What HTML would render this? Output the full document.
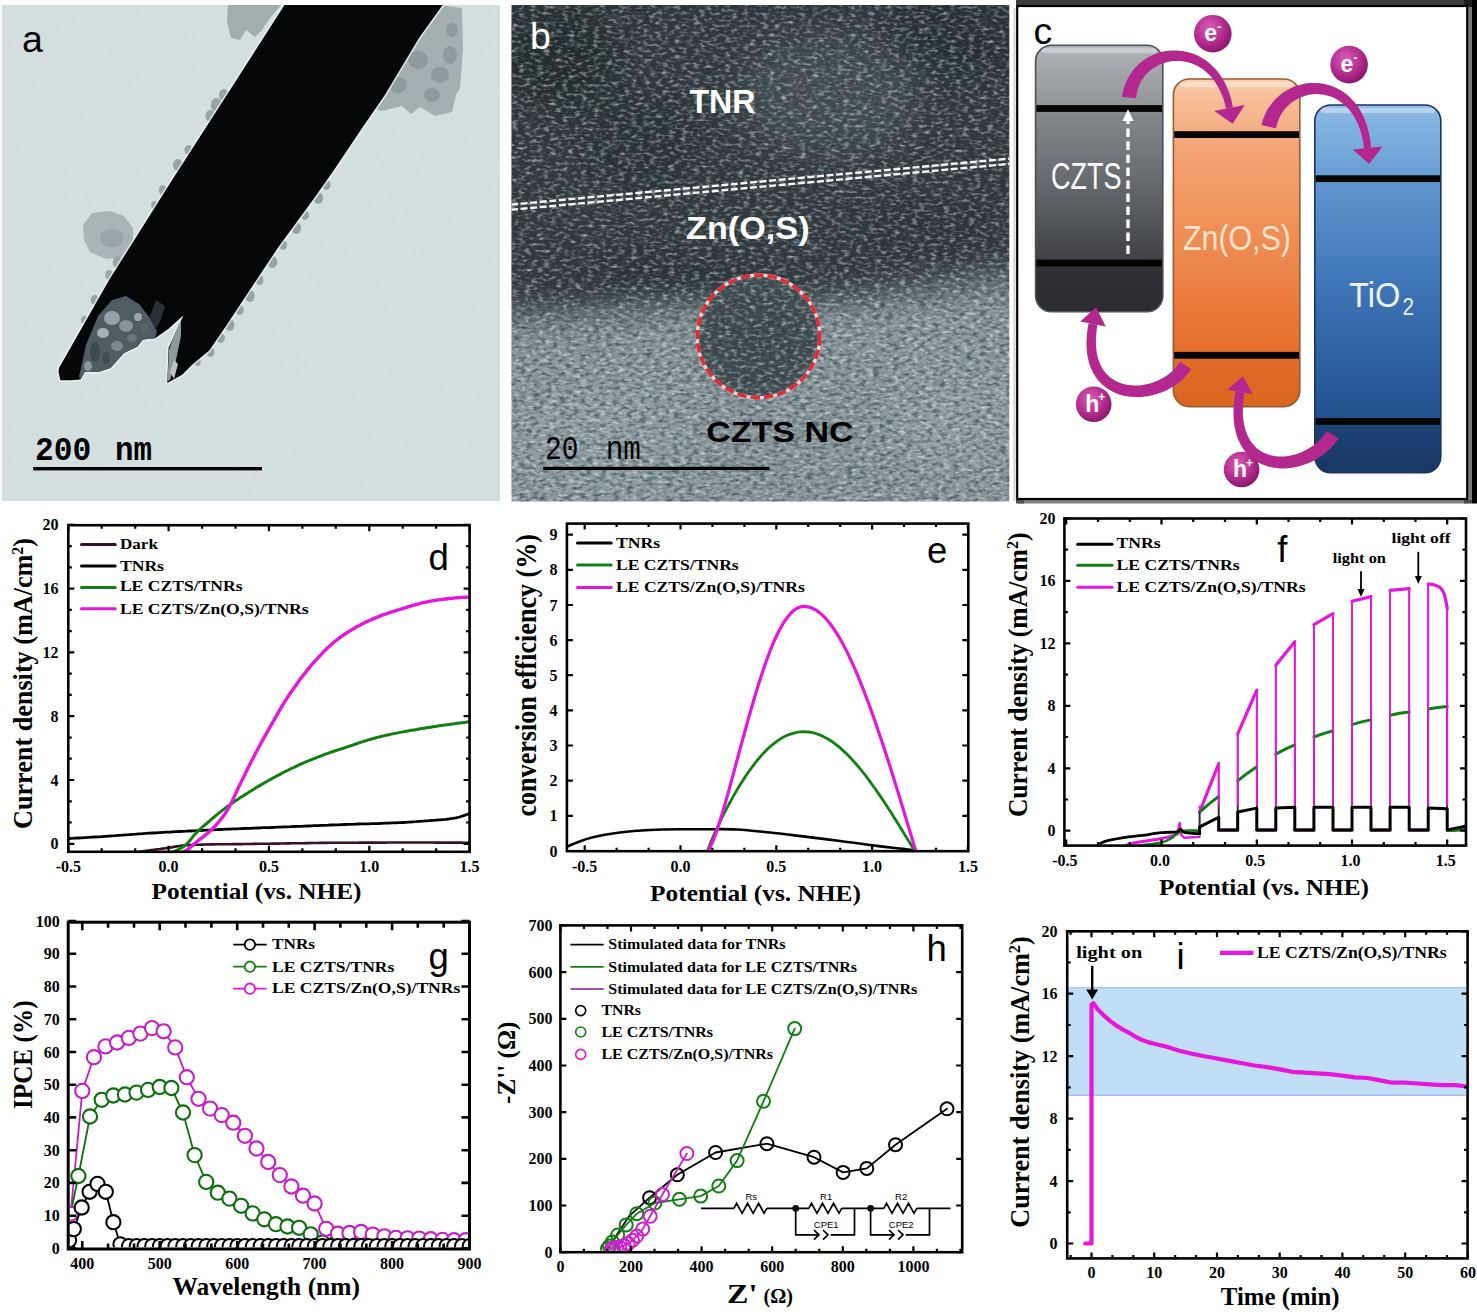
<!DOCTYPE html>
<html><head><meta charset="utf-8"><style>
html,body{margin:0;padding:0;background:#fff;}
svg{display:block;}
</style></head><body>
<svg width="1477" height="1315" viewBox="0 0 1477 1315">
<rect width="1477" height="1315" fill="#fff"/>
<rect x="2" y="5" width="498" height="496" fill="#d4dfdf"/>
<filter id="nzA" x="0" y="0" width="1" height="1"><feTurbulence type="fractalNoise" baseFrequency="0.25" numOctaves="2" seed="5"/><feColorMatrix type="matrix" values="0 0 0 0 0.55  0 0 0 0 0.62  0 0 0 0 0.62  1.8 0 0 0 -0.85"/></filter>
<rect x="2" y="5" width="498" height="496" filter="url(#nzA)" opacity="0.18"/>
<clipPath id="ca"><rect x="2" y="5" width="498" height="496"/></clipPath>
<g clip-path="url(#ca)">
<path d="M228.0,5.0 L281.0,5.0 L270.0,18.0 L262.0,30.0 L255.0,37.0 L246.0,30.0 L240.0,40.0 L231.0,38.0 L227.0,22.0 Z" fill="#a2adb0"/>
<path d="M440.0,5.0 L462.0,8.0 L463.0,50.0 L460.0,88.0 L456.0,95.0 L452.0,112.0 L435.0,116.0 L420.0,107.0 L411.0,114.0 L402.0,106.0 L382.0,111.0 L372.0,108.0 L405.0,55.0 L428.0,22.0 Z" fill="#a4afb2"/>
<ellipse cx="418" cy="60" rx="10" ry="9" fill="#8e9a9e" opacity="1"/>
<ellipse cx="440" cy="75" rx="9" ry="8" fill="#8e9a9e" opacity="1"/>
<ellipse cx="450" cy="55" rx="7" ry="9" fill="#8e9a9e" opacity="1"/>
<ellipse cx="398" cy="85" rx="9" ry="8" fill="#8e9a9e" opacity="1"/>
<ellipse cx="432" cy="95" rx="8" ry="7" fill="#8e9a9e" opacity="1"/>
<ellipse cx="452" cy="30" rx="6" ry="7" fill="#8e9a9e" opacity="1"/>
<ellipse cx="412" cy="35" rx="7" ry="6" fill="#8e9a9e" opacity="1"/>
<path d="M83.0,225.0 L92.0,213.0 L110.0,211.0 L124.0,216.0 L133.0,228.0 L133.0,246.0 L124.0,257.0 L106.0,259.0 L90.0,252.0 L84.0,240.0 Z" fill="#a9b4b7"/>
<ellipse cx="112" cy="238" rx="12" ry="10" fill="#9aa6a9" opacity="1"/>
<ellipse cx="223.78333333333333" cy="95" rx="4.800000000000001" ry="6" fill="#98a4a7" opacity="1"/>
<ellipse cx="216.35" cy="105" rx="5.6000000000000005" ry="7" fill="#98a4a7" opacity="1"/>
<ellipse cx="210.27333333333334" cy="116" rx="4.800000000000001" ry="6" fill="#98a4a7" opacity="1"/>
<ellipse cx="188.39999999999998" cy="150" rx="4.0" ry="5" fill="#98a4a7" opacity="1"/>
<ellipse cx="177.75" cy="165" rx="4.800000000000001" ry="6" fill="#98a4a7" opacity="1"/>
<ellipse cx="162.79999999999998" cy="190" rx="4.0" ry="5" fill="#98a4a7" opacity="1"/>
<ellipse cx="154.35" cy="205" rx="3.2" ry="4" fill="#98a4a7" opacity="1"/>
<ellipse cx="117.44" cy="262" rx="4.800000000000001" ry="6" fill="#98a4a7" opacity="1"/>
<ellipse cx="109.25" cy="275" rx="4.0" ry="5" fill="#98a4a7" opacity="1"/>
<ellipse cx="94.71363636363635" cy="300" rx="4.0" ry="5" fill="#98a4a7" opacity="1"/>
<ellipse cx="84.32727272727273" cy="320" rx="3.2" ry="4" fill="#98a4a7" opacity="1"/>
<ellipse cx="326.5122448979592" cy="185" rx="4.0" ry="5" fill="#96a2a5" opacity="1"/>
<ellipse cx="318.31496598639455" cy="198" rx="4.800000000000001" ry="6" fill="#96a2a5" opacity="1"/>
<ellipse cx="304.90423728813556" cy="215" rx="4.0" ry="5" fill="#96a2a5" opacity="1"/>
<ellipse cx="296.3745762711864" cy="228" rx="4.800000000000001" ry="6" fill="#96a2a5" opacity="1"/>
<ellipse cx="282.9127118644068" cy="245" rx="4.0" ry="5" fill="#96a2a5" opacity="1"/>
<ellipse cx="272.44417582417583" cy="262" rx="4.800000000000001" ry="6" fill="#96a2a5" opacity="1"/>
<ellipse cx="259.4573626373626" cy="280" rx="4.0" ry="5" fill="#96a2a5" opacity="1"/>
<ellipse cx="249.8240625" cy="296" rx="4.800000000000001" ry="6" fill="#96a2a5" opacity="1"/>
<ellipse cx="239.5928125" cy="310" rx="4.0" ry="5" fill="#96a2a5" opacity="1"/>
<ellipse cx="229.6945525291829" cy="325" rx="4.800000000000001" ry="6" fill="#96a2a5" opacity="1"/>
<ellipse cx="220.7918287937743" cy="338" rx="4.0" ry="5" fill="#96a2a5" opacity="1"/>
<ellipse cx="210.38235294117646" cy="352" rx="4.0" ry="5" fill="#96a2a5" opacity="1"/>
<ellipse cx="197.39705882352942" cy="362" rx="3.2" ry="4" fill="#96a2a5" opacity="1"/>
<path d="M284.5,5.0 L442.7,5.0 L419.0,37.9 L385.0,94.8 L360.3,130.7 L333.7,170.6 L312.9,200.0 L278.3,247.2 L248.0,292.7 L226.9,324.7 L209.3,350.4 L193.0,364.0 L182.2,374.8 L167.3,382.9 L168.6,347.7 L183.5,315.2 L168.6,328.7 L155.1,338.2 L142.9,339.6 L137.5,346.4 L124.0,353.1 L110.4,368.0 L98.2,372.1 L84.7,372.1 L80.6,379.5 L71.1,380.2 L60.3,380.2 L58.5,372.0 L59.0,368.0 L109.1,280.0 L172.1,180.0 L230.0,90.0 Z" fill="none" stroke="#eef5f5" stroke-width="3.2" stroke-linejoin="round" opacity="0.8"/>
<path d="M284.5,5.0 L442.7,5.0 L419.0,37.9 L385.0,94.8 L360.3,130.7 L333.7,170.6 L312.9,200.0 L278.3,247.2 L248.0,292.7 L226.9,324.7 L209.3,350.4 L193.0,364.0 L182.2,374.8 L167.3,382.9 L168.6,347.7 L183.5,315.2 L168.6,328.7 L155.1,338.2 L142.9,339.6 L137.5,346.4 L124.0,353.1 L110.4,368.0 L98.2,372.1 L84.7,372.1 L80.6,379.5 L71.1,380.2 L60.3,380.2 L58.5,372.0 L59.0,368.0 L109.1,280.0 L172.1,180.0 L230.0,90.0 Z" fill="#050607"/>
<path d="M79.0,377.0 L86.0,345.0 L98.0,316.0 L112.0,300.0 L126.0,296.0 L139.0,304.0 L150.0,318.0 L157.0,331.0 L155.0,338.2 L142.9,339.6 L137.5,346.4 L124.0,353.1 L110.4,368.0 L98.2,372.1 L84.7,372.1 L80.6,379.5 Z" fill="#4f5c61"/>
<ellipse cx="112" cy="318" rx="8" ry="7" fill="#9aa7aa" opacity="0.95"/>
<ellipse cx="103" cy="333" rx="6" ry="5" fill="#a9b5b8" opacity="0.95"/>
<ellipse cx="126" cy="326" rx="7" ry="6" fill="#8a979b" opacity="0.95"/>
<ellipse cx="95" cy="352" rx="5" ry="10" fill="#3c484c" opacity="0.95"/>
<ellipse cx="117" cy="346" rx="6" ry="5" fill="#7f8c90" opacity="0.95"/>
<ellipse cx="88" cy="366" rx="4" ry="5" fill="#8e9b9e" opacity="0.95"/>
<ellipse cx="138" cy="317" rx="4" ry="4" fill="#9fabae" opacity="0.95"/>
<ellipse cx="132" cy="338" rx="5" ry="4" fill="#6a777b" opacity="0.95"/>
<ellipse cx="106" cy="358" rx="4" ry="6" fill="#3f4b4f" opacity="0.95"/>
<ellipse cx="145" cy="328" rx="4" ry="5" fill="#566367" opacity="0.95"/>
<path d="M150.0,316.0 L156.0,300.0 L165.0,306.0 L160.0,322.0 L155.0,330.0 Z" fill="#2e3a3e" opacity="0.85"/>
<path d="M169.0,350.0 L174.0,335.0 L181.0,320.0 L181.0,336.0 L176.0,360.0 L170.0,380.0 L167.5,381.0 Z" fill="#8d9a9e"/>
<path d="M170.0,372.0 L174.0,360.0 L178.0,364.0 L174.0,379.0 Z" fill="#b9c4c6"/>
</g>
<text x="22.0" y="51.5" font-size="37.5" fill="#000" text-anchor="start" font-family="'Liberation Sans', sans-serif" font-weight="normal" >a</text>
<text x="35.0" y="460.1" font-size="33" fill="#000" text-anchor="start" font-family="'Liberation Mono', monospace" font-weight="bold" textLength="56.3" lengthAdjust="spacingAndGlyphs" >200</text>
<text x="115.0" y="460.1" font-size="33" fill="#000" text-anchor="start" font-family="'Liberation Mono', monospace" font-weight="bold" textLength="37.0" lengthAdjust="spacingAndGlyphs" >nm</text>
<rect x="33.2" y="467" width="228.8" height="3.4" fill="#000"/>
<defs>
<linearGradient id="bgB" x1="0" y1="0" x2="0" y2="1">
<stop offset="0" stop-color="#293033"/>
<stop offset="0.3" stop-color="#30383b"/>
<stop offset="0.5" stop-color="#343c3f"/>
<stop offset="0.56" stop-color="#4c5659"/>
<stop offset="0.62" stop-color="#76838a"/>
<stop offset="0.7" stop-color="#899598"/>
<stop offset="1" stop-color="#8e9a9d"/>
</linearGradient>
<radialGradient id="ncB" cx="0.5" cy="0.5" r="0.5">
<stop offset="0" stop-color="#3c4548"/>
<stop offset="0.8" stop-color="#414a4d"/>
<stop offset="1" stop-color="#4c5659"/>
</radialGradient>
<filter id="nzB" x="0" y="0" width="1" height="1">
<feTurbulence type="fractalNoise" baseFrequency="0.16 0.32" numOctaves="2" seed="3"/>
<feColorMatrix type="matrix" values="0 0 0 0 0.85  0 0 0 0 0.95  0 0 0 0 0.97  2.4 0 0 0 -1.1"/>
</filter>
<filter id="nzB2" x="0" y="0" width="1" height="1">
<feTurbulence type="fractalNoise" baseFrequency="0.15 0.3" numOctaves="2" seed="9"/>
<feColorMatrix type="matrix" values="0 0 0 0 0.02  0 0 0 0 0.05  0 0 0 0 0.06  2.4 0 0 0 -1.05"/>
</filter>
<filter id="blB" x="-0.5" y="-0.5" width="2" height="2"><feGaussianBlur stdDeviation="18"/></filter>
<clipPath id="cb"><rect x="511.5" y="5" width="497.8" height="496.4"/></clipPath>
</defs>
<g clip-path="url(#cb)">
<rect x="511.5" y="5" width="497.79999999999995" height="496.4" fill="url(#bgB)"/>
<g filter="url(#blB)">
<path d="M500,0 H1020 V250 L1000,262 L950,282 L900,292 L850,298 L800,300 L760,305 L700,302 L650,306 L600,312 L540,318 L500,318 Z" fill="#30383b"/>
<path d="M500,330 L560,326 L640,320 L700,318 L760,330 L820,318 L880,305 L940,296 L1000,285 L1020,280 V510 H500 Z" fill="#8a9699"/>
<ellipse cx="560" cy="60" rx="60" ry="50" fill="#23292c"/>
<ellipse cx="950" cy="40" rx="70" ry="40" fill="#272d30"/>
<ellipse cx="830" cy="95" rx="90" ry="60" fill="#454e52"/>
<ellipse cx="640" cy="140" rx="60" ry="45" fill="#2a3134"/>
<ellipse cx="660" cy="280" rx="80" ry="25" fill="#2c3336"/>
<ellipse cx="930" cy="230" rx="70" ry="30" fill="#2e3538"/>
<ellipse cx="600" cy="440" rx="80" ry="50" fill="#939fa2"/>
<ellipse cx="950" cy="420" rx="60" ry="60" fill="#929ea1"/>
</g>
<circle cx="758.5" cy="336.4" r="61" fill="url(#ncB)"/>
<rect x="511.5" y="5" width="497.79999999999995" height="496.4" filter="url(#nzB)" opacity="0.6"/>
<rect x="511.5" y="5" width="497.79999999999995" height="496.4" filter="url(#nzB2)" opacity="0.72"/>
<g stroke="#f6f6f6" stroke-width="2.4" stroke-dasharray="7 2.6" fill="none"><line x1="511" y1="204.6" x2="1010" y2="158.6"/><line x1="511" y1="209.8" x2="1010" y2="163.8"/></g>
<circle cx="758.5" cy="336.4" r="61.2" fill="none" stroke="#e8d8dc" stroke-width="3.4"/>
<circle cx="758.5" cy="336.4" r="61.2" fill="none" stroke="#e32a35" stroke-width="3.6" stroke-dasharray="9.5 4"/>
</g>
<text x="530.0" y="48.5" font-size="37.5" fill="#fff" text-anchor="start" font-family="'Liberation Sans', sans-serif" font-weight="normal" >b</text>
<text x="689.4" y="113.4" font-size="32.5" fill="#fff" text-anchor="start" font-family="'Liberation Sans', sans-serif" font-weight="bold" textLength="66.0" lengthAdjust="spacingAndGlyphs" >TNR</text>
<text x="686.0" y="238.6" font-size="31" fill="#fff" text-anchor="start" font-family="'Liberation Sans', sans-serif" font-weight="bold" textLength="123.6" lengthAdjust="spacingAndGlyphs" >Zn(O,S)</text>
<text x="706.3" y="442.3" font-size="29.3" fill="#000" text-anchor="start" font-family="'Liberation Sans', sans-serif" font-weight="bold" textLength="147.3" lengthAdjust="spacingAndGlyphs" >CZTS NC</text>
<text x="545.0" y="458.7" font-size="33" fill="#000" text-anchor="start" font-family="'Liberation Mono', monospace" font-weight="normal" textLength="33.4" lengthAdjust="spacingAndGlyphs" >20</text>
<text x="605.7" y="458.7" font-size="33" fill="#000" text-anchor="start" font-family="'Liberation Mono', monospace" font-weight="normal" textLength="35.2" lengthAdjust="spacingAndGlyphs" >nm</text>
<rect x="543.2" y="466.8" width="226.2" height="3.2" fill="#000"/>
<rect x="1016" y="0" width="452" height="5.5" fill="#3d3d3d"/>
<rect x="1464" y="0" width="8" height="7" fill="#1e1e1e"/>
<rect x="1472" y="0" width="5" height="503.5" fill="#000"/>
<rect x="1468" y="7" width="4" height="493" fill="#7a7a7a"/>
<rect x="1018" y="500" width="450" height="3.5" fill="#808080"/>
<rect x="1016" y="500" width="8" height="3.5" fill="#555"/>
<rect x="1464" y="500" width="8" height="3.5" fill="#4a4a4a"/>
<rect x="1013.3" y="8" width="2.4" height="493" fill="#d8d8d8"/>
<rect x="1017.2" y="6" width="250" height="1" fill="#000"/>
<rect x="1017.2" y="6" width="450" height="493" fill="#fff" stroke="#000" stroke-width="2.2"/>
<defs>
<linearGradient id="czG" x1="0" y1="0" x2="0" y2="1">
<stop offset="0" stop-color="#b4b8bc"/><stop offset="0.05" stop-color="#a8acb0"/>
<stop offset="0.23" stop-color="#929699"/><stop offset="0.24" stop-color="#86898d"/>
<stop offset="0.5" stop-color="#686b6f"/><stop offset="0.8" stop-color="#404245"/>
<stop offset="0.82" stop-color="#2f3134"/><stop offset="1" stop-color="#2a2c2f"/>
</linearGradient>
<linearGradient id="znG" x1="0" y1="0" x2="0" y2="1">
<stop offset="0" stop-color="#fbd0b0"/><stop offset="0.05" stop-color="#f8c09a"/>
<stop offset="0.17" stop-color="#f4ac80"/><stop offset="0.2" stop-color="#f4a676"/>
<stop offset="0.5" stop-color="#ef8c52"/><stop offset="0.8" stop-color="#e6712e"/>
<stop offset="0.85" stop-color="#e26c2a"/><stop offset="1" stop-color="#d9661f"/>
</linearGradient>
<linearGradient id="tiG" x1="0" y1="0" x2="0" y2="1">
<stop offset="0" stop-color="#94c0e8"/><stop offset="0.05" stop-color="#82b2e0"/>
<stop offset="0.19" stop-color="#6a9fd6"/><stop offset="0.21" stop-color="#5f95cf"/>
<stop offset="0.5" stop-color="#3d74b6"/><stop offset="0.85" stop-color="#22508f"/>
<stop offset="0.87" stop-color="#1d4274"/><stop offset="1" stop-color="#183866"/>
</linearGradient>
<radialGradient id="ballG" cx="0.4" cy="0.35" r="0.65">
<stop offset="0" stop-color="#d860b8"/><stop offset="0.6" stop-color="#b42e90"/><stop offset="1" stop-color="#8e1670"/>
</radialGradient>
</defs>
<rect x="1035.6" y="45.2" width="127.2" height="266.6" rx="16" ry="16" fill="url(#czG)" stroke="#4a5056" stroke-width="1.6"/>
<rect x="1041.6" y="48.2" width="115.2" height="5" rx="2.5" fill="#fff" opacity="0.35"/>
<rect x="1036.3999999999999" y="105.1" width="125.60000000000001" height="6.8" fill="#050505"/>
<rect x="1036.3999999999999" y="259.6" width="125.60000000000001" height="6.8" fill="#050505"/>
<rect x="1173.4" y="79.0" width="126.4" height="327.6" rx="16" ry="16" fill="url(#znG)" stroke="#9a5a35" stroke-width="1.6"/>
<rect x="1179.4" y="82.0" width="114.4" height="5" rx="2.5" fill="#fff" opacity="0.35"/>
<rect x="1174.2" y="131.2" width="124.80000000000001" height="6.8" fill="#050505"/>
<rect x="1174.2" y="351.90000000000003" width="124.80000000000001" height="6.8" fill="#050505"/>
<rect x="1314.8" y="105.0" width="126.0" height="367.8" rx="16" ry="16" fill="url(#tiG)" stroke="#1c3560" stroke-width="1.6"/>
<rect x="1320.8" y="108.0" width="114.0" height="5" rx="2.5" fill="#fff" opacity="0.35"/>
<rect x="1315.6" y="175.29999999999998" width="124.4" height="6.8" fill="#050505"/>
<rect x="1315.6" y="418.0" width="124.4" height="6.8" fill="#050505"/>
<text x="1050.9" y="189.4" font-size="36" fill="#fff" text-anchor="start" font-family="'Liberation Sans', sans-serif" font-weight="normal" textLength="70.5" lengthAdjust="spacingAndGlyphs" >CZTS</text>
<text x="1183.0" y="249.5" font-size="35.5" fill="#fde3cc" text-anchor="start" font-family="'Liberation Sans', sans-serif" font-weight="normal" textLength="107.9" lengthAdjust="spacingAndGlyphs" >Zn(O,S)</text>
<text x="1349.1" y="307.2" font-size="35.5" fill="#eef4fb" text-anchor="start" font-family="'Liberation Sans', sans-serif" font-weight="normal" textLength="51.2" lengthAdjust="spacingAndGlyphs" >TiO</text>
<text x="1402.5" y="315.4" font-size="23" fill="#eef4fb" text-anchor="start" font-family="'Liberation Sans', sans-serif" font-weight="normal" textLength="11.5" lengthAdjust="spacingAndGlyphs" >2</text>
<line x1="1128" y1="254" x2="1128" y2="121" stroke="#fff" stroke-width="3.4" stroke-dasharray="8.5 4.5"/>
<path d="M1122.5,121 L1133.5,121 L1128,109.3 Z" fill="#fff"/>
<path d="M1136.0,98.3 L1136.4,94.9 L1137.0,91.7 L1137.9,88.7 L1139.0,85.8 L1140.2,83.0 L1141.7,80.4 L1143.3,77.9 L1145.1,75.6 L1147.0,73.4 L1149.1,71.4 L1151.4,69.6 L1153.7,67.9 L1156.2,66.4 L1158.8,65.0 L1161.5,63.9 L1164.3,62.9 L1167.2,62.1 L1170.1,61.5 L1173.0,61.1 L1176.0,60.9 L1179.1,61.0 L1182.1,61.2 L1185.2,61.7 L1188.2,62.3 L1191.2,63.3 L1194.2,64.4 L1197.2,65.8 L1200.0,67.4 L1202.9,69.3 L1205.6,71.5 L1208.3,73.9 L1210.9,76.6 L1213.3,79.5 L1215.6,82.8 L1217.8,86.3 L1219.8,90.2 L1221.7,94.3 L1223.4,98.8 L1224.8,103.6 L1226.1,108.7 L1232.9,107.3 L1231.8,101.8 L1230.4,96.5 L1228.7,91.6 L1226.8,86.9 L1224.7,82.6 L1222.4,78.5 L1219.9,74.7 L1217.3,71.1 L1214.4,67.9 L1211.4,64.9 L1208.3,62.2 L1205.0,59.8 L1201.6,57.7 L1198.2,55.8 L1194.6,54.2 L1191.0,52.9 L1187.3,51.9 L1183.6,51.2 L1179.8,50.7 L1176.1,50.4 L1172.3,50.5 L1168.6,50.8 L1164.9,51.3 L1161.3,52.1 L1157.7,53.1 L1154.2,54.4 L1150.8,56.0 L1147.5,57.8 L1144.3,59.8 L1141.3,62.0 L1138.4,64.5 L1135.6,67.2 L1133.1,70.2 L1130.8,73.4 L1128.7,76.8 L1126.8,80.4 L1125.2,84.2 L1123.9,88.2 L1122.8,92.3 L1122.0,96.7 Z" fill="#b3278f"/>
<path d="M1214.3,111.0 L1232.6,123.7 L1244.7,105.0 Z" fill="#b3278f"/>
<path d="M1276.0,128.3 L1276.8,125.0 L1277.7,121.9 L1278.9,118.9 L1280.2,116.1 L1281.7,113.5 L1283.4,111.0 L1285.2,108.6 L1287.2,106.4 L1289.3,104.4 L1291.6,102.6 L1294.0,100.9 L1296.5,99.4 L1299.1,98.0 L1301.8,96.9 L1304.5,95.9 L1307.3,95.2 L1310.2,94.6 L1313.1,94.3 L1316.1,94.1 L1319.0,94.2 L1322.0,94.5 L1325.0,95.0 L1327.9,95.7 L1330.8,96.6 L1333.7,97.8 L1336.6,99.3 L1339.3,100.9 L1342.0,102.9 L1344.7,105.1 L1347.2,107.5 L1349.6,110.2 L1351.9,113.3 L1354.1,116.6 L1356.1,120.2 L1357.9,124.1 L1359.6,128.3 L1361.1,132.8 L1362.3,137.7 L1363.3,142.8 L1364.1,148.3 L1371.1,147.7 L1370.5,141.8 L1369.6,136.2 L1368.4,130.8 L1367.0,125.8 L1365.3,121.1 L1363.5,116.6 L1361.4,112.4 L1359.1,108.5 L1356.6,104.8 L1353.9,101.5 L1351.0,98.4 L1348.0,95.6 L1344.8,93.1 L1341.6,90.8 L1338.2,88.9 L1334.7,87.2 L1331.1,85.8 L1327.5,84.7 L1323.8,83.8 L1320.0,83.2 L1316.3,82.9 L1312.5,82.9 L1308.8,83.1 L1305.1,83.6 L1301.4,84.4 L1297.8,85.4 L1294.2,86.6 L1290.7,88.2 L1287.4,89.9 L1284.1,91.9 L1281.0,94.2 L1278.0,96.7 L1275.1,99.5 L1272.5,102.5 L1270.1,105.7 L1267.8,109.1 L1265.8,112.8 L1264.1,116.7 L1262.6,120.8 L1261.4,125.1 Z" fill="#b3278f"/>
<path d="M1352.7,149.5 L1369.2,163.9 L1382.5,146.5 Z" fill="#b3278f"/>
<path d="M1180.0,361.8 L1178.3,364.3 L1176.4,366.8 L1174.4,369.1 L1172.1,371.2 L1169.8,373.3 L1167.2,375.2 L1164.6,376.9 L1161.8,378.5 L1159.0,380.0 L1156.0,381.3 L1153.0,382.4 L1150.0,383.4 L1146.9,384.2 L1143.7,384.8 L1140.6,385.2 L1137.5,385.4 L1134.4,385.5 L1131.3,385.3 L1128.3,385.0 L1125.4,384.5 L1122.5,383.7 L1119.8,382.8 L1117.1,381.7 L1114.5,380.3 L1112.1,378.8 L1109.8,377.1 L1107.6,375.1 L1105.6,372.9 L1103.7,370.4 L1102.0,367.8 L1100.4,364.8 L1099.1,361.6 L1097.9,358.1 L1097.0,354.2 L1096.4,350.1 L1096.0,345.7 L1095.9,341.0 L1096.1,335.9 L1096.6,330.5 L1097.4,324.8 L1088.6,323.2 L1087.5,329.3 L1086.9,335.2 L1086.5,340.8 L1086.5,346.1 L1086.9,351.2 L1087.5,356.0 L1088.5,360.6 L1089.7,364.9 L1091.3,368.9 L1093.1,372.7 L1095.2,376.2 L1097.5,379.4 L1100.1,382.4 L1102.9,385.1 L1105.8,387.5 L1109.0,389.6 L1112.3,391.5 L1115.7,393.0 L1119.2,394.4 L1122.8,395.4 L1126.5,396.2 L1130.2,396.8 L1134.0,397.1 L1137.8,397.1 L1141.6,397.0 L1145.5,396.6 L1149.3,396.0 L1153.1,395.1 L1156.8,394.1 L1160.5,392.8 L1164.1,391.4 L1167.7,389.7 L1171.1,387.8 L1174.5,385.8 L1177.7,383.5 L1180.8,381.0 L1183.7,378.4 L1186.4,375.5 L1189.0,372.4 L1191.4,369.2 Z" fill="#b3278f"/>
<path d="M1105.8,326.4 L1096.1,307.3 L1080.2,321.6 Z" fill="#b3278f"/>
<path d="M1326.8,431.0 L1325.0,433.7 L1323.0,436.3 L1320.8,438.8 L1318.4,441.2 L1316.0,443.4 L1313.4,445.4 L1310.6,447.3 L1307.8,449.0 L1304.9,450.6 L1302.0,452.0 L1299.0,453.2 L1295.9,454.2 L1292.8,455.1 L1289.7,455.7 L1286.6,456.2 L1283.6,456.4 L1280.5,456.5 L1277.5,456.4 L1274.6,456.1 L1271.7,455.5 L1268.9,454.8 L1266.2,453.8 L1263.6,452.7 L1261.1,451.3 L1258.7,449.7 L1256.5,447.9 L1254.4,445.8 L1252.4,443.5 L1250.5,441.0 L1248.8,438.1 L1247.3,435.0 L1246.0,431.6 L1244.9,427.9 L1244.0,423.8 L1243.3,419.5 L1242.9,414.8 L1242.9,409.8 L1243.1,404.5 L1243.6,398.8 L1244.4,392.8 L1235.6,391.2 L1234.5,397.6 L1233.8,403.8 L1233.5,409.6 L1233.5,415.2 L1233.8,420.5 L1234.4,425.5 L1235.3,430.2 L1236.5,434.7 L1237.9,438.9 L1239.7,442.8 L1241.7,446.5 L1244.0,449.9 L1246.5,453.0 L1249.2,455.8 L1252.1,458.3 L1255.2,460.6 L1258.5,462.5 L1261.9,464.2 L1265.4,465.6 L1269.0,466.7 L1272.6,467.5 L1276.4,468.1 L1280.2,468.4 L1284.0,468.4 L1287.8,468.2 L1291.7,467.8 L1295.5,467.1 L1299.3,466.2 L1303.1,465.1 L1306.9,463.8 L1310.5,462.2 L1314.1,460.4 L1317.6,458.4 L1321.0,456.2 L1324.3,453.8 L1327.5,451.1 L1330.5,448.3 L1333.4,445.3 L1336.1,442.1 L1338.6,438.6 Z" fill="#b3278f"/>
<path d="M1252.8,394.3 L1242.8,376.2 L1227.2,389.7 Z" fill="#b3278f"/>
<circle cx="1212.8" cy="33.7" r="18.8" fill="url(#ballG)"/>
<text x="1204.3" y="41.2" font-size="23" fill="#fff" text-anchor="start" font-family="'Liberation Sans', sans-serif" font-weight="bold" >e</text>
<text x="1217.3" y="30.7" font-size="12" fill="#fff" text-anchor="start" font-family="'Liberation Sans', sans-serif" font-weight="bold" >-</text>
<circle cx="1349.1" cy="64.6" r="18.8" fill="url(#ballG)"/>
<text x="1340.6" y="72.1" font-size="23" fill="#fff" text-anchor="start" font-family="'Liberation Sans', sans-serif" font-weight="bold" >e</text>
<text x="1353.6" y="61.6" font-size="12" fill="#fff" text-anchor="start" font-family="'Liberation Sans', sans-serif" font-weight="bold" >-</text>
<circle cx="1093.7" cy="404.2" r="17.8" fill="url(#ballG)"/>
<text x="1085.2" y="411.7" font-size="23" fill="#fff" text-anchor="start" font-family="'Liberation Sans', sans-serif" font-weight="bold" >h</text>
<text x="1098.2" y="401.2" font-size="12" fill="#fff" text-anchor="start" font-family="'Liberation Sans', sans-serif" font-weight="bold" >+</text>
<circle cx="1241.6" cy="469.5" r="17.8" fill="url(#ballG)"/>
<text x="1233.1" y="477.0" font-size="23" fill="#fff" text-anchor="start" font-family="'Liberation Sans', sans-serif" font-weight="bold" >h</text>
<text x="1246.1" y="466.5" font-size="12" fill="#fff" text-anchor="start" font-family="'Liberation Sans', sans-serif" font-weight="bold" >+</text>
<text x="1033.5" y="43.5" font-size="37.5" fill="#000" text-anchor="start" font-family="'Liberation Sans', sans-serif" font-weight="normal" >c</text>
<clipPath id="cd"><rect x="69" y="526" width="400" height="325"/></clipPath>
<g clip-path="url(#cd)">
<path d="M134.5,852.6 L137.3,852.1 L140.1,851.7 L143.0,851.3 L145.8,850.9 L148.6,850.5 L151.4,850.1 L154.2,849.7 L157.0,849.3 L159.9,849.0 L162.7,848.6 L165.5,848.2 L168.3,847.8 L171.1,847.4 L173.9,846.9 L176.8,846.4 L179.6,846.0 L182.4,845.6 L185.2,845.3 L188.0,845.1 L190.8,845.0 L193.6,844.9 L196.5,844.8 L199.3,844.7 L202.1,844.6 L204.9,844.5 L207.7,844.5 L210.5,844.4 L213.4,844.4 L216.2,844.3 L219.0,844.3 L221.8,844.2 L224.6,844.2 L227.4,844.2 L230.3,844.2 L233.1,844.1 L235.9,844.1 L238.7,844.1 L241.5,844.1 L244.3,844.0 L247.1,844.0 L250.0,844.0 L252.8,843.9 L255.6,843.9 L258.4,843.8 L261.2,843.8 L264.0,843.8 L266.9,843.7 L269.7,843.7 L272.5,843.6 L275.3,843.6 L278.1,843.6 L280.9,843.5 L283.8,843.5 L286.6,843.4 L289.4,843.4 L292.2,843.3 L295.0,843.3 L297.8,843.2 L300.6,843.2 L303.5,843.2 L306.3,843.1 L309.1,843.1 L311.9,843.0 L314.7,843.0 L317.5,843.0 L320.4,842.9 L323.2,842.9 L326.0,842.9 L328.8,842.8 L331.6,842.8 L334.4,842.8 L337.3,842.8 L340.1,842.7 L342.9,842.7 L345.7,842.7 L348.5,842.7 L351.3,842.7 L354.2,842.7 L357.0,842.7 L359.8,842.6 L362.6,842.6 L365.4,842.6 L368.2,842.6 L371.0,842.6 L373.9,842.6 L376.7,842.6 L379.5,842.6 L382.3,842.6 L385.1,842.6 L387.9,842.5 L390.8,842.5 L393.6,842.5 L396.4,842.5 L399.2,842.5 L402.0,842.5 L404.8,842.5 L407.7,842.5 L410.5,842.5 L413.3,842.5 L416.1,842.5 L418.9,842.5 L421.7,842.5 L424.5,842.5 L427.4,842.5 L430.2,842.5 L433.0,842.5 L435.8,842.6 L438.6,842.6 L441.4,842.6 L444.3,842.6 L447.1,842.6 L449.9,842.6 L452.7,842.6 L455.5,842.6 L458.3,842.6 L461.2,842.6 L464.0,842.7 L466.8,842.7 L469.6,842.7" stroke="#3a1028" stroke-width="2.6" fill="none" stroke-linejoin="round" stroke-linecap="round" />
<path d="M68.3,838.5 L71.7,838.4 L75.0,838.2 L78.4,838.0 L81.8,837.8 L85.2,837.6 L88.5,837.4 L91.9,837.2 L95.3,837.0 L98.7,836.8 L102.0,836.6 L105.4,836.3 L108.8,836.1 L112.1,835.9 L115.5,835.7 L118.9,835.4 L122.3,835.2 L125.6,834.9 L129.0,834.7 L132.4,834.4 L135.7,834.2 L139.1,833.9 L142.5,833.7 L145.9,833.4 L149.2,833.2 L152.6,833.0 L156.0,832.8 L159.4,832.6 L162.7,832.4 L166.1,832.2 L169.5,832.1 L172.8,831.9 L176.2,831.7 L179.6,831.5 L183.0,831.3 L186.3,831.2 L189.7,831.0 L193.1,830.8 L196.4,830.6 L199.8,830.5 L203.2,830.3 L206.6,830.1 L209.9,830.0 L213.3,829.8 L216.7,829.7 L220.1,829.5 L223.4,829.4 L226.8,829.2 L230.2,829.1 L233.5,828.9 L236.9,828.8 L240.3,828.6 L243.7,828.5 L247.0,828.4 L250.4,828.3 L253.8,828.1 L257.1,828.0 L260.5,827.9 L263.9,827.7 L267.3,827.6 L270.6,827.5 L274.0,827.3 L277.4,827.2 L280.8,827.1 L284.1,826.9 L287.5,826.8 L290.9,826.7 L294.2,826.5 L297.6,826.4 L301.0,826.3 L304.4,826.1 L307.7,826.0 L311.1,825.9 L314.5,825.7 L317.8,825.6 L321.2,825.4 L324.6,825.3 L328.0,825.2 L331.3,825.0 L334.7,824.9 L338.1,824.8 L341.5,824.6 L344.8,824.5 L348.2,824.4 L351.6,824.3 L354.9,824.2 L358.3,824.0 L361.7,823.9 L365.1,823.9 L368.4,823.8 L371.8,823.7 L375.2,823.6 L378.5,823.5 L381.9,823.3 L385.3,823.2 L388.7,823.1 L392.0,822.9 L395.4,822.8 L398.8,822.6 L402.2,822.5 L405.5,822.3 L408.9,822.1 L412.3,821.9 L415.6,821.7 L419.0,821.4 L422.4,821.2 L425.8,820.9 L429.1,820.7 L432.5,820.4 L435.9,820.2 L439.2,819.9 L442.6,819.6 L446.0,819.3 L449.4,818.9 L452.7,818.4 L456.1,817.8 L459.5,817.0 L462.9,815.9 L466.2,814.7 L469.6,813.5" stroke="#000" stroke-width="2.8" fill="none" stroke-linejoin="round" stroke-linecap="round" />
<path d="M168.6,853.4 L171.2,852.6 L173.7,851.6 L176.2,850.5 L178.7,849.3 L181.3,848.0 L183.8,846.5 L186.3,844.5 L188.9,841.7 L191.4,838.6 L193.9,835.4 L196.4,832.7 L199.0,830.2 L201.5,827.9 L204.0,825.6 L206.6,823.5 L209.1,821.3 L211.6,819.1 L214.2,817.0 L216.7,814.9 L219.2,812.9 L221.7,810.9 L224.3,808.9 L226.8,807.0 L229.3,805.2 L231.9,803.4 L234.4,801.6 L236.9,799.9 L239.4,798.3 L242.0,796.6 L244.5,795.0 L247.0,793.4 L249.6,791.8 L252.1,790.2 L254.6,788.7 L257.1,787.1 L259.7,785.6 L262.2,784.1 L264.7,782.7 L267.3,781.2 L269.8,779.8 L272.3,778.4 L274.9,777.0 L277.4,775.7 L279.9,774.4 L282.4,773.0 L285.0,771.7 L287.5,770.5 L290.0,769.2 L292.6,768.0 L295.1,766.8 L297.6,765.6 L300.1,764.4 L302.7,763.3 L305.2,762.2 L307.7,761.1 L310.3,760.1 L312.8,759.1 L315.3,758.1 L317.8,757.1 L320.4,756.1 L322.9,755.2 L325.4,754.2 L328.0,753.3 L330.5,752.4 L333.0,751.5 L335.6,750.7 L338.1,749.9 L340.6,749.1 L343.1,748.3 L345.7,747.4 L348.2,746.6 L350.7,745.8 L353.3,744.9 L355.8,744.0 L358.3,743.1 L360.8,742.3 L363.4,741.4 L365.9,740.7 L368.4,739.9 L371.0,739.2 L373.5,738.5 L376.0,737.8 L378.5,737.1 L381.1,736.5 L383.6,735.9 L386.1,735.3 L388.7,734.7 L391.2,734.1 L393.7,733.6 L396.3,733.1 L398.8,732.6 L401.3,732.1 L403.8,731.7 L406.4,731.2 L408.9,730.8 L411.4,730.3 L414.0,729.9 L416.5,729.5 L419.0,729.0 L421.5,728.6 L424.1,728.2 L426.6,727.8 L429.1,727.4 L431.7,727.0 L434.2,726.6 L436.7,726.2 L439.2,725.8 L441.8,725.4 L444.3,725.1 L446.8,724.7 L449.4,724.4 L451.9,724.0 L454.4,723.7 L457.0,723.3 L459.5,723.0 L462.0,722.7 L464.5,722.4 L467.1,722.1 L469.6,721.8" stroke="#108010" stroke-width="3.0" fill="none" stroke-linejoin="round" stroke-linecap="round" />
<path d="M180.7,853.4 L183.1,852.3 L185.5,850.9 L187.9,849.3 L190.4,847.3 L192.8,845.2 L195.2,843.0 L197.7,841.0 L200.1,839.2 L202.5,837.3 L204.9,835.4 L207.4,833.5 L209.8,831.3 L212.2,829.0 L214.7,826.5 L217.1,823.8 L219.5,821.0 L221.9,817.9 L224.4,814.6 L226.8,811.0 L229.2,806.8 L231.7,802.1 L234.1,797.0 L236.5,791.7 L238.9,786.5 L241.4,781.5 L243.8,776.7 L246.2,771.8 L248.6,766.9 L251.1,762.0 L253.5,757.2 L255.9,752.5 L258.4,748.0 L260.8,743.5 L263.2,739.1 L265.6,734.8 L268.1,730.5 L270.5,726.2 L272.9,722.0 L275.4,717.7 L277.8,713.4 L280.2,709.2 L282.6,705.1 L285.1,701.2 L287.5,697.4 L289.9,693.8 L292.4,690.3 L294.8,686.8 L297.2,683.4 L299.6,680.1 L302.1,676.8 L304.5,673.7 L306.9,670.6 L309.3,667.6 L311.8,664.7 L314.2,661.9 L316.6,659.3 L319.1,656.6 L321.5,654.1 L323.9,651.5 L326.3,649.1 L328.8,646.8 L331.2,644.6 L333.6,642.4 L336.1,640.5 L338.5,638.6 L340.9,636.9 L343.3,635.2 L345.8,633.5 L348.2,631.9 L350.6,630.4 L353.1,629.0 L355.5,627.5 L357.9,626.2 L360.3,624.9 L362.8,623.6 L365.2,622.4 L367.6,621.3 L370.1,620.2 L372.5,619.1 L374.9,618.1 L377.3,617.1 L379.8,616.1 L382.2,615.2 L384.6,614.3 L387.0,613.5 L389.5,612.6 L391.9,611.8 L394.3,611.1 L396.8,610.3 L399.2,609.6 L401.6,608.8 L404.0,608.1 L406.5,607.4 L408.9,606.6 L411.3,605.9 L413.8,605.2 L416.2,604.5 L418.6,603.9 L421.0,603.2 L423.5,602.6 L425.9,602.1 L428.3,601.6 L430.8,601.1 L433.2,600.6 L435.6,600.3 L438.0,599.9 L440.5,599.6 L442.9,599.3 L445.3,599.0 L447.7,598.7 L450.2,598.4 L452.6,598.2 L455.0,597.9 L457.5,597.7 L459.9,597.5 L462.3,597.4 L464.7,597.2 L467.2,597.1 L469.6,597.1" stroke="#e616de" stroke-width="3.4" fill="none" stroke-linejoin="round" stroke-linecap="round" />
</g>
<rect x="68.3" y="525.2" width="401.3" height="326.6" fill="none" stroke="#000" stroke-width="2.6"/>
<path d="M68.3,851.8 v-6 M68.3,525.2 v6 M168.6,851.8 v-6 M168.6,525.2 v6 M268.9,851.8 v-6 M268.9,525.2 v6 M369.3,851.8 v-6 M369.3,525.2 v6 M469.6,851.8 v-6 M469.6,525.2 v6 M101.7,851.8 v-3.5 M101.7,525.2 v3.5 M135.2,851.8 v-3.5 M135.2,525.2 v3.5 M202.1,851.8 v-3.5 M202.1,525.2 v3.5 M235.5,851.8 v-3.5 M235.5,525.2 v3.5 M302.4,851.8 v-3.5 M302.4,525.2 v3.5 M335.8,851.8 v-3.5 M335.8,525.2 v3.5 M402.7,851.8 v-3.5 M402.7,525.2 v3.5 M436.2,851.8 v-3.5 M436.2,525.2 v3.5 M68.3,843.8 h6 M469.6,843.8 h-6 M68.3,780.0 h6 M469.6,780.0 h-6 M68.3,716.2 h6 M469.6,716.2 h-6 M68.3,652.4 h6 M469.6,652.4 h-6 M68.3,588.6 h6 M469.6,588.6 h-6 M68.3,524.8 h6 M469.6,524.8 h-6 M68.3,822.5 h3.5 M469.6,822.5 h-3.5 M68.3,801.3 h3.5 M469.6,801.3 h-3.5 M68.3,758.7 h3.5 M469.6,758.7 h-3.5 M68.3,737.5 h3.5 M469.6,737.5 h-3.5 M68.3,694.9 h3.5 M469.6,694.9 h-3.5 M68.3,673.7 h3.5 M469.6,673.7 h-3.5 M68.3,631.1 h3.5 M469.6,631.1 h-3.5 M68.3,609.9 h3.5 M469.6,609.9 h-3.5 M68.3,567.3 h3.5 M469.6,567.3 h-3.5 M68.3,546.1 h3.5 M469.6,546.1 h-3.5 " stroke="#000" stroke-width="2.2" fill="none"/>
<text x="58.5" y="849.3" font-size="16" fill="#000" text-anchor="end" font-family="'Liberation Serif', serif" font-weight="bold" >0</text>
<text x="58.5" y="785.5" font-size="16" fill="#000" text-anchor="end" font-family="'Liberation Serif', serif" font-weight="bold" >4</text>
<text x="58.5" y="721.7" font-size="16" fill="#000" text-anchor="end" font-family="'Liberation Serif', serif" font-weight="bold" >8</text>
<text x="58.5" y="657.9" font-size="16" fill="#000" text-anchor="end" font-family="'Liberation Serif', serif" font-weight="bold" >12</text>
<text x="58.5" y="594.1" font-size="16" fill="#000" text-anchor="end" font-family="'Liberation Serif', serif" font-weight="bold" >16</text>
<text x="58.5" y="530.3" font-size="16" fill="#000" text-anchor="end" font-family="'Liberation Serif', serif" font-weight="bold" >20</text>
<text x="68.3" y="872.2" font-size="16" fill="#000" text-anchor="middle" font-family="'Liberation Serif', serif" font-weight="bold" >-0.5</text>
<text x="168.6" y="872.2" font-size="16" fill="#000" text-anchor="middle" font-family="'Liberation Serif', serif" font-weight="bold" >0.0</text>
<text x="268.9" y="872.2" font-size="16" fill="#000" text-anchor="middle" font-family="'Liberation Serif', serif" font-weight="bold" >0.5</text>
<text x="369.3" y="872.2" font-size="16" fill="#000" text-anchor="middle" font-family="'Liberation Serif', serif" font-weight="bold" >1.0</text>
<text x="469.6" y="872.2" font-size="16" fill="#000" text-anchor="middle" font-family="'Liberation Serif', serif" font-weight="bold" >1.5</text>
<text x="151.5" y="898.5" font-size="24" fill="#000" text-anchor="start" font-family="'Liberation Serif', serif" font-weight="bold" textLength="210.0" lengthAdjust="spacingAndGlyphs" >Potential (vs. NHE)</text>
<text x="32" y="829" font-size="26.5" font-family="'Liberation Serif', serif" font-weight="bold" transform="rotate(-90 32 829)" textLength="291" lengthAdjust="spacingAndGlyphs">Current density (mA/cm<tspan dy="-9" font-size="16">2</tspan><tspan dy="9">)</tspan></text>
<text x="428.5" y="570.4" font-size="36.5" fill="#000" text-anchor="start" font-family="'Liberation Sans', sans-serif" font-weight="normal" >d</text>
<line x1="81.5" y1="544.4" x2="115.2" y2="544.4" stroke="#3a1028" stroke-width="3" stroke-linecap="round"/>
<text x="119.9" y="548.6" font-size="15.5" fill="#000" text-anchor="start" font-family="'Liberation Serif', serif" font-weight="bold" textLength="38.1" lengthAdjust="spacingAndGlyphs" >Dark</text>
<line x1="81.5" y1="566.0" x2="115.2" y2="566.0" stroke="#000" stroke-width="3" stroke-linecap="round"/>
<text x="119.9" y="570.6" font-size="15.5" fill="#000" text-anchor="start" font-family="'Liberation Serif', serif" font-weight="bold" textLength="44.1" lengthAdjust="spacingAndGlyphs" >TNRs</text>
<line x1="81.5" y1="587.5" x2="115.2" y2="587.5" stroke="#108010" stroke-width="3" stroke-linecap="round"/>
<text x="119.9" y="591.0" font-size="15.5" fill="#000" text-anchor="start" font-family="'Liberation Serif', serif" font-weight="bold" textLength="122.7" lengthAdjust="spacingAndGlyphs" >LE CZTS/TNRs</text>
<line x1="81.5" y1="608.7" x2="115.2" y2="608.7" stroke="#e616de" stroke-width="3" stroke-linecap="round"/>
<text x="119.9" y="613.8" font-size="15.5" fill="#000" text-anchor="start" font-family="'Liberation Serif', serif" font-weight="bold" textLength="188.8" lengthAdjust="spacingAndGlyphs" >LE CZTS/Zn(O,S)/TNRs</text>
<clipPath id="ce"><rect x="568" y="525" width="399" height="325"/></clipPath>
<g clip-path="url(#ce)">
<path d="M566.0,846.9 C570.0,845.4 581.0,840.4 590.0,838.0 C599.0,835.6 610.0,833.8 620.0,832.5 C630.0,831.2 640.0,830.5 650.0,830.0 C660.0,829.5 670.0,829.4 680.0,829.3 C690.0,829.2 700.5,829.2 710.0,829.2 C719.5,829.2 727.0,829.0 737.0,829.5 C747.0,830.0 759.0,831.4 770.0,832.5 C781.0,833.6 791.3,835.0 803.0,836.4 C814.7,837.8 828.0,839.5 840.0,841.0 C852.0,842.5 865.0,844.4 875.0,845.6 C885.0,846.9 893.2,847.7 900.0,848.5 C906.8,849.3 913.3,850.2 916.0,850.5" stroke="#000" stroke-width="2.6" fill="none" stroke-linejoin="round" stroke-linecap="round" />
<path d="M707.5,851.0 L710.1,843.9 L712.7,837.7 L715.3,831.9 L717.9,826.3 L720.5,820.9 L723.0,815.6 L725.6,810.5 L728.2,805.6 L730.8,800.8 L733.4,796.1 L736.0,791.6 L738.6,787.2 L741.2,783.0 L743.8,778.9 L746.4,775.0 L749.0,771.3 L751.6,767.7 L754.1,764.3 L756.7,761.0 L759.3,757.9 L761.9,754.9 L764.5,752.2 L767.1,749.6 L769.7,747.1 L772.3,744.9 L774.9,742.8 L777.5,740.9 L780.1,739.2 L782.6,737.6 L785.2,736.3 L787.8,735.1 L790.4,734.1 L793.0,733.3 L795.6,732.6 L798.2,732.1 L800.8,731.8 L803.4,731.7 L806.0,731.8 L808.6,732.0 L811.1,732.4 L813.7,732.9 L816.3,733.7 L818.9,734.6 L821.5,735.6 L824.1,736.9 L826.7,738.2 L829.3,739.8 L831.9,741.5 L834.5,743.3 L837.1,745.3 L839.7,747.4 L842.2,749.7 L844.8,752.1 L847.4,754.6 L850.0,757.3 L852.6,760.1 L855.2,763.0 L857.8,766.0 L860.4,769.1 L863.0,772.3 L865.6,775.6 L868.2,779.1 L870.7,782.6 L873.3,786.2 L875.9,789.8 L878.5,793.6 L881.1,797.4 L883.7,801.3 L886.3,805.2 L888.9,809.2 L891.5,813.3 L894.1,817.4 L896.7,821.5 L899.3,825.7 L901.8,829.8 L904.4,834.1 L907.0,838.3 L909.6,842.5 L912.2,846.8 L914.8,851.0" stroke="#108010" stroke-width="2.8" fill="none" stroke-linejoin="round" stroke-linecap="round" />
<path d="M707.5,851.0 L710.1,847.3 L712.7,841.6 L715.3,834.9 L717.9,827.4 L720.5,819.2 L723.1,810.6 L725.7,801.7 L728.3,792.4 L730.9,783.0 L733.5,773.4 L736.1,763.7 L738.7,754.0 L741.3,744.3 L744.0,734.7 L746.6,725.2 L749.2,715.9 L751.8,706.8 L754.4,697.9 L757.0,689.2 L759.6,680.9 L762.2,672.9 L764.8,665.2 L767.4,658.0 L770.0,651.1 L772.6,644.7 L775.2,638.7 L777.8,633.2 L780.4,628.2 L783.0,623.7 L785.6,619.7 L788.2,616.2 L790.8,613.2 L793.4,610.8 L796.0,608.9 L798.6,607.5 L801.2,606.7 L803.8,606.4 L806.4,606.6 L809.0,607.1 L811.6,608.0 L814.3,609.2 L816.9,610.7 L819.5,612.6 L822.1,614.9 L824.7,617.4 L827.3,620.3 L829.9,623.5 L832.5,627.0 L835.1,630.8 L837.7,634.9 L840.3,639.3 L842.9,644.0 L845.5,648.9 L848.1,654.1 L850.7,659.6 L853.3,665.3 L855.9,671.2 L858.5,677.4 L861.1,683.8 L863.7,690.4 L866.3,697.2 L868.9,704.2 L871.5,711.4 L874.1,718.7 L876.7,726.2 L879.3,733.9 L882.0,741.7 L884.6,749.6 L887.2,757.7 L889.8,765.8 L892.4,774.1 L895.0,782.4 L897.6,790.9 L900.2,799.3 L902.8,807.9 L905.4,816.5 L908.0,825.1 L910.6,833.7 L913.2,842.4 L915.8,851.0" stroke="#e616de" stroke-width="3.2" fill="none" stroke-linejoin="round" stroke-linecap="round" />
</g>
<rect x="566.9" y="523.6" width="401.4" height="327.6" fill="none" stroke="#000" stroke-width="2.6"/>
<path d="M584.7,851.2 v-6 M584.7,523.6 v6 M680.5,851.2 v-6 M680.5,523.6 v6 M776.3,851.2 v-6 M776.3,523.6 v6 M872.1,851.2 v-6 M872.1,523.6 v6 M967.9,851.2 v-6 M967.9,523.6 v6 M616.6,851.2 v-3.5 M616.6,523.6 v3.5 M648.6,851.2 v-3.5 M648.6,523.6 v3.5 M712.4,851.2 v-3.5 M712.4,523.6 v3.5 M744.4,851.2 v-3.5 M744.4,523.6 v3.5 M808.2,851.2 v-3.5 M808.2,523.6 v3.5 M840.2,851.2 v-3.5 M840.2,523.6 v3.5 M904.0,851.2 v-3.5 M904.0,523.6 v3.5 M936.0,851.2 v-3.5 M936.0,523.6 v3.5 M566.9,851.0 h6 M968.3,851.0 h-6 M566.9,815.9 h6 M968.3,815.9 h-6 M566.9,780.7 h6 M968.3,780.7 h-6 M566.9,745.5 h6 M968.3,745.5 h-6 M566.9,710.4 h6 M968.3,710.4 h-6 M566.9,675.2 h6 M968.3,675.2 h-6 M566.9,640.1 h6 M968.3,640.1 h-6 M566.9,605.0 h6 M968.3,605.0 h-6 M566.9,569.8 h6 M968.3,569.8 h-6 M566.9,534.7 h6 M968.3,534.7 h-6 " stroke="#000" stroke-width="2.2" fill="none"/>
<text x="557.5" y="856.5" font-size="16" fill="#000" text-anchor="end" font-family="'Liberation Serif', serif" font-weight="bold" >0</text>
<text x="557.5" y="821.4" font-size="16" fill="#000" text-anchor="end" font-family="'Liberation Serif', serif" font-weight="bold" >1</text>
<text x="557.5" y="786.2" font-size="16" fill="#000" text-anchor="end" font-family="'Liberation Serif', serif" font-weight="bold" >2</text>
<text x="557.5" y="751.0" font-size="16" fill="#000" text-anchor="end" font-family="'Liberation Serif', serif" font-weight="bold" >3</text>
<text x="557.5" y="715.9" font-size="16" fill="#000" text-anchor="end" font-family="'Liberation Serif', serif" font-weight="bold" >4</text>
<text x="557.5" y="680.8" font-size="16" fill="#000" text-anchor="end" font-family="'Liberation Serif', serif" font-weight="bold" >5</text>
<text x="557.5" y="645.6" font-size="16" fill="#000" text-anchor="end" font-family="'Liberation Serif', serif" font-weight="bold" >6</text>
<text x="557.5" y="610.5" font-size="16" fill="#000" text-anchor="end" font-family="'Liberation Serif', serif" font-weight="bold" >7</text>
<text x="557.5" y="575.3" font-size="16" fill="#000" text-anchor="end" font-family="'Liberation Serif', serif" font-weight="bold" >8</text>
<text x="557.5" y="540.2" font-size="16" fill="#000" text-anchor="end" font-family="'Liberation Serif', serif" font-weight="bold" >9</text>
<text x="584.7" y="871.5" font-size="16" fill="#000" text-anchor="middle" font-family="'Liberation Serif', serif" font-weight="bold" >-0.5</text>
<text x="680.5" y="871.5" font-size="16" fill="#000" text-anchor="middle" font-family="'Liberation Serif', serif" font-weight="bold" >0.0</text>
<text x="776.3" y="871.5" font-size="16" fill="#000" text-anchor="middle" font-family="'Liberation Serif', serif" font-weight="bold" >0.5</text>
<text x="872.1" y="871.5" font-size="16" fill="#000" text-anchor="middle" font-family="'Liberation Serif', serif" font-weight="bold" >1.0</text>
<text x="967.9" y="871.5" font-size="16" fill="#000" text-anchor="middle" font-family="'Liberation Serif', serif" font-weight="bold" >1.5</text>
<text x="650.0" y="900.5" font-size="24" fill="#000" text-anchor="start" font-family="'Liberation Serif', serif" font-weight="bold" textLength="211.0" lengthAdjust="spacingAndGlyphs" >Potential (vs. NHE)</text>
<text x="536.4" y="816.5" font-size="30" fill="#000" text-anchor="start" font-family="'Liberation Serif', serif" font-weight="bold" textLength="282.5" lengthAdjust="spacingAndGlyphs" transform="rotate(-90 536.4 816.5)" >conversion efficiency (%)</text>
<text x="927.0" y="563.0" font-size="36.5" fill="#000" text-anchor="start" font-family="'Liberation Sans', sans-serif" font-weight="normal" >e</text>
<line x1="577.5" y1="543.1" x2="611.2" y2="543.1" stroke="#000" stroke-width="3" stroke-linecap="round"/>
<text x="616.0" y="547.5" font-size="15.5" fill="#000" text-anchor="start" font-family="'Liberation Serif', serif" font-weight="bold" textLength="44.1" lengthAdjust="spacingAndGlyphs" >TNRs</text>
<line x1="577.5" y1="565.1" x2="611.2" y2="565.1" stroke="#108010" stroke-width="3" stroke-linecap="round"/>
<text x="616.0" y="569.6" font-size="15.5" fill="#000" text-anchor="start" font-family="'Liberation Serif', serif" font-weight="bold" textLength="122.7" lengthAdjust="spacingAndGlyphs" >LE CZTS/TNRs</text>
<line x1="577.5" y1="587.6" x2="611.2" y2="587.6" stroke="#e616de" stroke-width="3" stroke-linecap="round"/>
<text x="616.0" y="592.0" font-size="15.5" fill="#000" text-anchor="start" font-family="'Liberation Serif', serif" font-weight="bold" textLength="188.8" lengthAdjust="spacingAndGlyphs" >LE CZTS/Zn(O,S)/TNRs</text>
<clipPath id="cf"><rect x="1065.5" y="519.5" width="399.5" height="325"/></clipPath>
<g clip-path="url(#cf)">
<path d="M1123.4,846.3 C1125.0,845.8 1128.2,844.2 1132.9,843.2 C1137.7,842.1 1147.2,840.8 1152.0,840.1 C1156.7,839.3 1158.3,839.2 1161.5,838.5 C1164.7,837.9 1168.3,836.9 1171.0,836.2 C1173.7,835.4 1176.6,834.2 1177.7,833.8" stroke="#e616de" stroke-width="3.0" fill="none" stroke-linejoin="round" stroke-linecap="round" />
<path d="M1177.7,833.8 L1179.6,822.9 L1181.5,835.4 L1184.4,837.7 L1199.6,836.9" stroke="#e616de" stroke-width="2.4" fill="none" stroke-linejoin="round" stroke-linecap="round" />
<line x1="1199.6" y1="830.7" x2="1199.6" y2="812.0" stroke="#e616de" stroke-width="1.8" />
<line x1="1218.7" y1="830.7" x2="1218.7" y2="763.6" stroke="#e616de" stroke-width="1.8" />
<path d="M1199.6,812.0 L1218.7,763.6" stroke="#e616de" stroke-width="3.2" fill="none" stroke-linejoin="round" stroke-linecap="round" />
<path d="M1218.7,830.4 L1237.7,830.4" stroke="#e616de" stroke-width="2.6" fill="none" stroke-linejoin="round" stroke-linecap="round" />
<line x1="1237.7" y1="830.7" x2="1237.7" y2="733.9" stroke="#e616de" stroke-width="1.8" />
<line x1="1256.8" y1="830.7" x2="1256.8" y2="690.2" stroke="#e616de" stroke-width="1.8" />
<path d="M1237.7,733.9 L1256.8,690.2" stroke="#e616de" stroke-width="3.2" fill="none" stroke-linejoin="round" stroke-linecap="round" />
<path d="M1256.8,830.4 L1275.8,830.4" stroke="#e616de" stroke-width="2.6" fill="none" stroke-linejoin="round" stroke-linecap="round" />
<line x1="1275.8" y1="830.7" x2="1275.8" y2="665.2" stroke="#e616de" stroke-width="1.8" />
<line x1="1294.8" y1="830.7" x2="1294.8" y2="641.8" stroke="#e616de" stroke-width="1.8" />
<path d="M1275.8,665.2 L1294.8,641.8" stroke="#e616de" stroke-width="3.2" fill="none" stroke-linejoin="round" stroke-linecap="round" />
<path d="M1294.8,830.4 L1313.9,830.4" stroke="#e616de" stroke-width="2.6" fill="none" stroke-linejoin="round" stroke-linecap="round" />
<line x1="1313.9" y1="830.7" x2="1313.9" y2="624.6" stroke="#e616de" stroke-width="1.8" />
<line x1="1333.0" y1="830.7" x2="1333.0" y2="613.7" stroke="#e616de" stroke-width="1.8" />
<path d="M1313.9,624.6 L1333.0,613.7" stroke="#e616de" stroke-width="3.2" fill="none" stroke-linejoin="round" stroke-linecap="round" />
<path d="M1333.0,830.4 L1352.0,830.4" stroke="#e616de" stroke-width="2.6" fill="none" stroke-linejoin="round" stroke-linecap="round" />
<line x1="1352.0" y1="830.7" x2="1352.0" y2="601.2" stroke="#e616de" stroke-width="1.8" />
<line x1="1371.0" y1="830.7" x2="1371.0" y2="596.6" stroke="#e616de" stroke-width="1.8" />
<path d="M1352.0,601.2 L1371.0,596.6" stroke="#e616de" stroke-width="3.2" fill="none" stroke-linejoin="round" stroke-linecap="round" />
<path d="M1371.0,830.4 L1390.1,830.4" stroke="#e616de" stroke-width="2.6" fill="none" stroke-linejoin="round" stroke-linecap="round" />
<line x1="1390.1" y1="830.7" x2="1390.1" y2="590.3" stroke="#e616de" stroke-width="1.8" />
<line x1="1409.2" y1="830.7" x2="1409.2" y2="588.7" stroke="#e616de" stroke-width="1.8" />
<path d="M1390.1,590.3 L1409.2,588.7" stroke="#e616de" stroke-width="3.2" fill="none" stroke-linejoin="round" stroke-linecap="round" />
<path d="M1409.2,830.4 L1428.2,830.4" stroke="#e616de" stroke-width="2.6" fill="none" stroke-linejoin="round" stroke-linecap="round" />
<line x1="1428.2" y1="830.7" x2="1428.2" y2="584.1" stroke="#e616de" stroke-width="1.8" />
<path d="M1428.2,584.1 C1429.2,584.2 1432.0,584.3 1433.9,584.8 C1435.8,585.4 1438.0,586.0 1439.6,587.2 C1441.2,588.4 1442.3,589.3 1443.4,591.9 C1444.6,594.5 1445.7,599.9 1446.3,602.8 C1446.9,605.7 1447.1,608.0 1447.2,609.0" stroke="#e616de" stroke-width="3.2" fill="none" stroke-linejoin="round" stroke-linecap="round" />
<line x1="1447.2" y1="609.0" x2="1447.2" y2="830.7" stroke="#e616de" stroke-width="1.8" />
<path d="M1447.2,830.4 C1448.8,830.2 1453.6,830.0 1456.8,829.1 C1460.0,828.3 1464.7,825.9 1466.3,825.2" stroke="#e616de" stroke-width="2.6" fill="none" stroke-linejoin="round" stroke-linecap="round" />
<path d="M1138.6,845.5 C1140.9,845.3 1148.2,844.5 1152.0,844.0 C1155.8,843.4 1158.3,843.3 1161.5,842.4 C1164.7,841.5 1168.3,840.1 1171.0,838.5 C1173.7,836.9 1175.5,834.3 1177.7,833.0 C1179.9,831.7 1180.7,831.1 1184.4,830.7 C1188.0,830.3 1197.1,830.7 1199.6,830.7" stroke="#108010" stroke-width="2.6" fill="none" stroke-linejoin="round" stroke-linecap="round" />
<path d="M1199.6,812.0 L1209.1,803.9 L1218.7,796.4" stroke="#108010" stroke-width="3.0" fill="none" stroke-linejoin="round" stroke-linecap="round" />
<path d="M1218.7,829.9 L1237.7,829.9" stroke="#108010" stroke-width="2.6" fill="none" stroke-linejoin="round" stroke-linecap="round" />
<line x1="1199.6" y1="829.9" x2="1199.6" y2="812.0" stroke="#1a3a1a" stroke-width="1.6" />
<line x1="1218.7" y1="829.9" x2="1218.7" y2="796.4" stroke="#1a3a1a" stroke-width="1.6" />
<path d="M1237.7,780.7 L1247.2,773.4 L1256.8,766.7" stroke="#108010" stroke-width="3.0" fill="none" stroke-linejoin="round" stroke-linecap="round" />
<path d="M1256.8,829.9 L1275.8,829.9" stroke="#108010" stroke-width="2.6" fill="none" stroke-linejoin="round" stroke-linecap="round" />
<line x1="1237.7" y1="829.9" x2="1237.7" y2="780.7" stroke="#1a3a1a" stroke-width="1.6" />
<line x1="1256.8" y1="829.9" x2="1256.8" y2="766.7" stroke="#1a3a1a" stroke-width="1.6" />
<path d="M1275.8,754.2 L1285.3,749.2 L1294.8,744.8" stroke="#108010" stroke-width="3.0" fill="none" stroke-linejoin="round" stroke-linecap="round" />
<path d="M1294.8,829.9 L1313.9,829.9" stroke="#108010" stroke-width="2.6" fill="none" stroke-linejoin="round" stroke-linecap="round" />
<line x1="1275.8" y1="829.9" x2="1275.8" y2="754.2" stroke="#1a3a1a" stroke-width="1.6" />
<line x1="1294.8" y1="829.9" x2="1294.8" y2="744.8" stroke="#1a3a1a" stroke-width="1.6" />
<path d="M1313.9,737.0 L1323.4,733.6 L1333.0,730.8" stroke="#108010" stroke-width="3.0" fill="none" stroke-linejoin="round" stroke-linecap="round" />
<path d="M1333.0,829.9 L1352.0,829.9" stroke="#108010" stroke-width="2.6" fill="none" stroke-linejoin="round" stroke-linecap="round" />
<line x1="1313.9" y1="829.9" x2="1313.9" y2="737.0" stroke="#1a3a1a" stroke-width="1.6" />
<line x1="1333.0" y1="829.9" x2="1333.0" y2="730.8" stroke="#1a3a1a" stroke-width="1.6" />
<path d="M1352.0,724.6 L1361.5,721.9 L1371.0,719.9" stroke="#108010" stroke-width="3.0" fill="none" stroke-linejoin="round" stroke-linecap="round" />
<path d="M1371.0,829.9 L1390.1,829.9" stroke="#108010" stroke-width="2.6" fill="none" stroke-linejoin="round" stroke-linecap="round" />
<line x1="1352.0" y1="829.9" x2="1352.0" y2="724.6" stroke="#1a3a1a" stroke-width="1.6" />
<line x1="1371.0" y1="829.9" x2="1371.0" y2="719.9" stroke="#1a3a1a" stroke-width="1.6" />
<path d="M1390.1,715.2 L1399.6,713.3 L1409.2,712.1" stroke="#108010" stroke-width="3.0" fill="none" stroke-linejoin="round" stroke-linecap="round" />
<path d="M1409.2,829.9 L1428.2,829.9" stroke="#108010" stroke-width="2.6" fill="none" stroke-linejoin="round" stroke-linecap="round" />
<line x1="1390.1" y1="829.9" x2="1390.1" y2="715.2" stroke="#1a3a1a" stroke-width="1.6" />
<line x1="1409.2" y1="829.9" x2="1409.2" y2="712.1" stroke="#1a3a1a" stroke-width="1.6" />
<path d="M1428.2,708.9 L1437.7,707.5 L1447.2,706.6" stroke="#108010" stroke-width="3.0" fill="none" stroke-linejoin="round" stroke-linecap="round" />
<path d="M1447.2,829.9 L1466.3,829.9" stroke="#108010" stroke-width="2.6" fill="none" stroke-linejoin="round" stroke-linecap="round" />
<line x1="1428.2" y1="829.9" x2="1428.2" y2="708.9" stroke="#1a3a1a" stroke-width="1.6" />
<line x1="1447.2" y1="829.9" x2="1447.2" y2="706.6" stroke="#1a3a1a" stroke-width="1.6" />
<path d="M1447.2,830.7 C1448.8,830.6 1453.6,830.6 1456.8,830.4 C1460.0,830.1 1464.7,829.3 1466.3,829.1" stroke="#108010" stroke-width="2.6" fill="none" stroke-linejoin="round" stroke-linecap="round" />
<path d="M1096.7,846.3 C1098.0,845.5 1099.9,843.1 1104.3,841.6 C1108.8,840.2 1117.1,838.8 1123.4,837.7 C1129.8,836.7 1136.1,836.2 1142.5,835.4 C1148.8,834.5 1155.8,833.1 1161.5,832.6 C1167.2,832.0 1173.6,832.5 1176.7,831.9 C1179.9,831.4 1179.3,829.1 1180.5,829.1 C1181.8,829.2 1181.2,831.5 1184.4,832.3 C1187.5,833.0 1197.1,833.6 1199.6,833.8" stroke="#000" stroke-width="2.8" fill="none" stroke-linejoin="round" stroke-linecap="round" />
<path d="M1199.6,833.8 L1199.6,826.8 L1218.7,817.4 L1218.7,829.9 L1237.7,829.9 L1237.7,812.0 L1256.8,808.1 L1256.8,829.9 L1275.8,829.9 L1275.8,808.1 L1294.8,807.3 L1294.8,829.9 L1313.9,829.9 L1313.9,807.3 L1333.0,807.3 L1333.0,829.9 L1352.0,829.9 L1352.0,807.3 L1371.0,807.3 L1371.0,829.9 L1390.1,829.9 L1390.1,807.3 L1409.2,807.3 L1409.2,829.9 L1428.2,829.9 L1428.2,808.1 L1447.2,808.8 L1447.2,829.9 L1447.2,829.9 L1451.1,829.1 L1466.3,826.0" stroke="#000" stroke-width="3.0" fill="none" stroke-linejoin="round" stroke-linecap="round" />
<line x1="1199.6" y1="805.7" x2="1199.6" y2="812.0" stroke="#e616de" stroke-width="1.8" />
<line x1="1218.7" y1="805.7" x2="1218.7" y2="763.6" stroke="#e616de" stroke-width="1.8" />
<line x1="1237.7" y1="805.7" x2="1237.7" y2="733.9" stroke="#e616de" stroke-width="1.8" />
<line x1="1256.8" y1="805.7" x2="1256.8" y2="690.2" stroke="#e616de" stroke-width="1.8" />
<line x1="1275.8" y1="805.7" x2="1275.8" y2="665.2" stroke="#e616de" stroke-width="1.8" />
<line x1="1294.8" y1="805.7" x2="1294.8" y2="641.8" stroke="#e616de" stroke-width="1.8" />
<line x1="1313.9" y1="805.7" x2="1313.9" y2="624.6" stroke="#e616de" stroke-width="1.8" />
<line x1="1333.0" y1="805.7" x2="1333.0" y2="613.7" stroke="#e616de" stroke-width="1.8" />
<line x1="1352.0" y1="805.7" x2="1352.0" y2="601.2" stroke="#e616de" stroke-width="1.8" />
<line x1="1371.0" y1="805.7" x2="1371.0" y2="596.6" stroke="#e616de" stroke-width="1.8" />
<line x1="1390.1" y1="805.7" x2="1390.1" y2="590.3" stroke="#e616de" stroke-width="1.8" />
<line x1="1409.2" y1="805.7" x2="1409.2" y2="588.7" stroke="#e616de" stroke-width="1.8" />
<line x1="1428.2" y1="805.7" x2="1428.2" y2="584.1" stroke="#e616de" stroke-width="1.8" />
<line x1="1447.2" y1="609.0" x2="1447.2" y2="805.7" stroke="#e616de" stroke-width="1.8" />
</g>
<rect x="1064.4" y="518.5" width="401.6" height="327.1" fill="none" stroke="#000" stroke-width="2.6"/>
<path d="M1066.2,845.6 v-6 M1066.2,518.5 v6 M1161.5,845.6 v-6 M1161.5,518.5 v6 M1256.8,845.6 v-6 M1256.8,518.5 v6 M1352.0,845.6 v-6 M1352.0,518.5 v6 M1447.2,845.6 v-6 M1447.2,518.5 v6 M1098.0,845.6 v-3.5 M1098.0,518.5 v3.5 M1129.8,845.6 v-3.5 M1129.8,518.5 v3.5 M1193.2,845.6 v-3.5 M1193.2,518.5 v3.5 M1225.0,845.6 v-3.5 M1225.0,518.5 v3.5 M1288.5,845.6 v-3.5 M1288.5,518.5 v3.5 M1320.2,845.6 v-3.5 M1320.2,518.5 v3.5 M1383.8,845.6 v-3.5 M1383.8,518.5 v3.5 M1415.5,845.6 v-3.5 M1415.5,518.5 v3.5 M1479.0,845.6 v-3.5 M1479.0,518.5 v3.5 M1064.4,830.7 h6 M1466.0,830.7 h-6 M1064.4,768.3 h6 M1466.0,768.3 h-6 M1064.4,705.8 h6 M1466.0,705.8 h-6 M1064.4,643.4 h6 M1466.0,643.4 h-6 M1064.4,580.9 h6 M1466.0,580.9 h-6 M1064.4,518.5 h6 M1466.0,518.5 h-6 M1064.4,799.5 h3.5 M1466.0,799.5 h-3.5 M1064.4,737.0 h3.5 M1466.0,737.0 h-3.5 M1064.4,674.6 h3.5 M1466.0,674.6 h-3.5 M1064.4,612.2 h3.5 M1466.0,612.2 h-3.5 M1064.4,549.7 h3.5 M1466.0,549.7 h-3.5 " stroke="#000" stroke-width="2.2" fill="none"/>
<text x="1055.5" y="835.9" font-size="16" fill="#000" text-anchor="end" font-family="'Liberation Serif', serif" font-weight="bold" >0</text>
<text x="1055.5" y="773.5" font-size="16" fill="#000" text-anchor="end" font-family="'Liberation Serif', serif" font-weight="bold" >4</text>
<text x="1055.5" y="711.0" font-size="16" fill="#000" text-anchor="end" font-family="'Liberation Serif', serif" font-weight="bold" >8</text>
<text x="1055.5" y="648.6" font-size="16" fill="#000" text-anchor="end" font-family="'Liberation Serif', serif" font-weight="bold" >12</text>
<text x="1055.5" y="586.1" font-size="16" fill="#000" text-anchor="end" font-family="'Liberation Serif', serif" font-weight="bold" >16</text>
<text x="1055.5" y="523.7" font-size="16" fill="#000" text-anchor="end" font-family="'Liberation Serif', serif" font-weight="bold" >20</text>
<text x="1064.8" y="866.0" font-size="16" fill="#000" text-anchor="middle" font-family="'Liberation Serif', serif" font-weight="bold" >-0.5</text>
<text x="1160.0" y="866.0" font-size="16" fill="#000" text-anchor="middle" font-family="'Liberation Serif', serif" font-weight="bold" >0.0</text>
<text x="1255.2" y="866.0" font-size="16" fill="#000" text-anchor="middle" font-family="'Liberation Serif', serif" font-weight="bold" >0.5</text>
<text x="1350.5" y="866.0" font-size="16" fill="#000" text-anchor="middle" font-family="'Liberation Serif', serif" font-weight="bold" >1.0</text>
<text x="1445.8" y="866.0" font-size="16" fill="#000" text-anchor="middle" font-family="'Liberation Serif', serif" font-weight="bold" >1.5</text>
<text x="1159.0" y="895.0" font-size="24" fill="#000" text-anchor="start" font-family="'Liberation Serif', serif" font-weight="bold" textLength="210.0" lengthAdjust="spacingAndGlyphs" >Potential (vs. NHE)</text>
<text x="1026.7" y="817.1" font-size="27" font-family="'Liberation Serif', serif" font-weight="bold" transform="rotate(-90 1026.7 817.1)" textLength="284.6" lengthAdjust="spacingAndGlyphs">Current density (mA/cm<tspan dy="-9" font-size="17">2</tspan><tspan dy="9">)</tspan></text>
<text x="1277.3" y="561.5" font-size="36.5" fill="#000" text-anchor="start" font-family="'Liberation Sans', sans-serif" font-weight="normal" >f</text>
<text x="1332.7" y="563.1" font-size="15.5" fill="#000" text-anchor="start" font-family="'Liberation Serif', serif" font-weight="bold" textLength="53.3" lengthAdjust="spacingAndGlyphs" >light on</text>
<text x="1391.5" y="543.0" font-size="15.5" fill="#000" text-anchor="start" font-family="'Liberation Serif', serif" font-weight="bold" textLength="59.1" lengthAdjust="spacingAndGlyphs" >light off</text>
<line x1="1361.0" y1="571.2" x2="1361.0" y2="591.0" stroke="#000" stroke-width="1.8" />
<path d="M1357.5,589.0 L1364.5,589.0 L1361.0,597.0 Z" fill="#000"/>
<line x1="1418.3" y1="551.8" x2="1418.3" y2="578.1" stroke="#000" stroke-width="1.8" />
<path d="M1414.8,576.1 L1421.8,576.1 L1418.3,584.1 Z" fill="#000"/>
<line x1="1077.7" y1="544.3" x2="1112.0" y2="544.3" stroke="#000" stroke-width="3" stroke-linecap="round"/>
<text x="1116.5" y="548.3" font-size="15.5" fill="#000" text-anchor="start" font-family="'Liberation Serif', serif" font-weight="bold" textLength="44.1" lengthAdjust="spacingAndGlyphs" >TNRs</text>
<line x1="1077.7" y1="565.3" x2="1112.0" y2="565.3" stroke="#108010" stroke-width="3" stroke-linecap="round"/>
<text x="1116.5" y="569.5" font-size="15.5" fill="#000" text-anchor="start" font-family="'Liberation Serif', serif" font-weight="bold" textLength="123.0" lengthAdjust="spacingAndGlyphs" >LE CZTS/TNRs</text>
<line x1="1077.7" y1="587.3" x2="1112.0" y2="587.3" stroke="#e616de" stroke-width="3" stroke-linecap="round"/>
<text x="1116.5" y="591.7" font-size="15.5" fill="#000" text-anchor="start" font-family="'Liberation Serif', serif" font-weight="bold" textLength="189.2" lengthAdjust="spacingAndGlyphs" >LE CZTS/Zn(O,S)/TNRs</text>
<clipPath id="cg"><rect x="69.5" y="922.4" width="399" height="324.8"/></clipPath>
<g clip-path="url(#cg)">
<path d="M62.9,1241.9 L70.7,1213.7 L82.3,1090.9 L93.9,1057.2 L105.5,1046.4 L117.1,1042.5 L128.8,1037.9 L140.4,1033.6 L152.0,1028.1 L163.6,1031.3 L175.2,1047.4 L186.8,1077.2 L198.5,1098.8 L210.1,1108.6 L221.7,1115.1 L233.3,1122.7 L244.9,1135.8 L256.5,1148.5 L268.2,1162.0 L279.8,1175.1 L291.4,1186.5 L303.0,1195.7 L314.6,1203.5 L326.2,1228.8 L337.9,1233.7 L349.5,1233.0 L361.1,1232.0 L372.7,1234.6 L384.3,1236.3 L395.9,1237.9 L407.5,1238.3 L419.2,1238.6 L430.8,1239.2 L442.4,1239.9 L454.0,1240.2 L465.6,1240.2 L473.4,1240.5" stroke="#c81ec8" stroke-width="1.8" fill="none" stroke-linejoin="round" stroke-linecap="round" />
<path d="M66.8,1232.0 L78.4,1176.0 L90.0,1116.5 L101.7,1099.8 L113.3,1095.5 L124.9,1094.5 L136.5,1092.6 L148.1,1089.9 L159.7,1087.0 L171.4,1088.0 L183.0,1112.5 L194.6,1155.1 L206.2,1181.9 L217.8,1192.7 L229.4,1198.6 L241.1,1205.8 L252.7,1213.4 L264.3,1219.3 L275.9,1224.2 L287.5,1226.5 L299.1,1227.8 L310.7,1234.3 L322.4,1242.5 L334.0,1244.5 L345.6,1245.1 L357.2,1245.1 L368.8,1245.1 L380.4,1245.1 L392.1,1245.1 L403.7,1245.1 L415.3,1245.1 L426.9,1245.1 L438.5,1245.1 L450.1,1245.1 L461.8,1245.1 L473.4,1245.1" stroke="#0b700b" stroke-width="1.8" fill="none" stroke-linejoin="round" stroke-linecap="round" />
<g stroke="#0b700b" stroke-width="2.1" fill="#fff"><circle cx="78.4" cy="1176.0" r="7.1"/><circle cx="90.0" cy="1116.5" r="7.1"/><circle cx="101.7" cy="1099.8" r="7.1"/><circle cx="113.3" cy="1095.5" r="7.1"/><circle cx="124.9" cy="1094.5" r="7.1"/><circle cx="136.5" cy="1092.6" r="7.1"/><circle cx="148.1" cy="1089.9" r="7.1"/><circle cx="159.7" cy="1087.0" r="7.1"/><circle cx="171.4" cy="1088.0" r="7.1"/><circle cx="183.0" cy="1112.5" r="7.1"/><circle cx="194.6" cy="1155.1" r="7.1"/><circle cx="206.2" cy="1181.9" r="7.1"/><circle cx="217.8" cy="1192.7" r="7.1"/><circle cx="229.4" cy="1198.6" r="7.1"/><circle cx="241.1" cy="1205.8" r="7.1"/><circle cx="252.7" cy="1213.4" r="7.1"/><circle cx="264.3" cy="1219.3" r="7.1"/><circle cx="275.9" cy="1224.2" r="7.1"/><circle cx="287.5" cy="1226.5" r="7.1"/><circle cx="299.1" cy="1227.8" r="7.1"/><circle cx="310.7" cy="1234.3" r="7.1"/><circle cx="322.4" cy="1242.5" r="7.1"/><circle cx="334.0" cy="1244.5" r="7.1"/><circle cx="345.6" cy="1245.1" r="7.1"/><circle cx="357.2" cy="1245.1" r="7.1"/><circle cx="368.8" cy="1245.1" r="7.1"/><circle cx="380.4" cy="1245.1" r="7.1"/><circle cx="392.1" cy="1245.1" r="7.1"/><circle cx="403.7" cy="1245.1" r="7.1"/><circle cx="415.3" cy="1245.1" r="7.1"/><circle cx="426.9" cy="1245.1" r="7.1"/><circle cx="438.5" cy="1245.1" r="7.1"/><circle cx="450.1" cy="1245.1" r="7.1"/><circle cx="461.8" cy="1245.1" r="7.1"/></g>
<g stroke="#c81ec8" stroke-width="2.1" fill="#fff"><circle cx="70.7" cy="1213.7" r="7.1"/><circle cx="82.3" cy="1090.9" r="7.1"/><circle cx="93.9" cy="1057.2" r="7.1"/><circle cx="105.5" cy="1046.4" r="7.1"/><circle cx="117.1" cy="1042.5" r="7.1"/><circle cx="128.8" cy="1037.9" r="7.1"/><circle cx="140.4" cy="1033.6" r="7.1"/><circle cx="152.0" cy="1028.1" r="7.1"/><circle cx="163.6" cy="1031.3" r="7.1"/><circle cx="175.2" cy="1047.4" r="7.1"/><circle cx="186.8" cy="1077.2" r="7.1"/><circle cx="198.5" cy="1098.8" r="7.1"/><circle cx="210.1" cy="1108.6" r="7.1"/><circle cx="221.7" cy="1115.1" r="7.1"/><circle cx="233.3" cy="1122.7" r="7.1"/><circle cx="244.9" cy="1135.8" r="7.1"/><circle cx="256.5" cy="1148.5" r="7.1"/><circle cx="268.2" cy="1162.0" r="7.1"/><circle cx="279.8" cy="1175.1" r="7.1"/><circle cx="291.4" cy="1186.5" r="7.1"/><circle cx="303.0" cy="1195.7" r="7.1"/><circle cx="314.6" cy="1203.5" r="7.1"/><circle cx="326.2" cy="1228.8" r="7.1"/><circle cx="337.9" cy="1233.7" r="7.1"/><circle cx="349.5" cy="1233.0" r="7.1"/><circle cx="361.1" cy="1232.0" r="7.1"/><circle cx="372.7" cy="1234.6" r="7.1"/><circle cx="384.3" cy="1236.3" r="7.1"/><circle cx="395.9" cy="1237.9" r="7.1"/><circle cx="407.5" cy="1238.3" r="7.1"/><circle cx="419.2" cy="1238.6" r="7.1"/><circle cx="430.8" cy="1239.2" r="7.1"/><circle cx="442.4" cy="1239.9" r="7.1"/><circle cx="454.0" cy="1240.2" r="7.1"/><circle cx="465.6" cy="1240.2" r="7.1"/></g>
<path d="M66.8,1245.1 L69.1,1240.2 L73.8,1229.1 L81.7,1207.5 L89.6,1191.8 L97.5,1183.9 L105.8,1191.8 L113.4,1222.2 L120.2,1244.1 L128.8,1245.9 L136.5,1245.9 L144.3,1245.9 L152.0,1245.9 L159.7,1245.9 L167.5,1245.9 L175.2,1245.9 L183.0,1245.9 L190.7,1245.9 L198.5,1245.9 L206.2,1245.9 L213.9,1245.9 L221.7,1245.9 L229.4,1245.9 L237.2,1245.9 L244.9,1245.9 L252.7,1245.9 L260.4,1245.9 L268.2,1245.9 L275.9,1245.9 L283.6,1245.9 L291.4,1245.9 L299.1,1245.9 L306.9,1245.9 L314.6,1245.9 L322.4,1245.9 L330.1,1245.9 L337.9,1245.9 L345.6,1245.9 L353.3,1245.9 L361.1,1245.9 L368.8,1245.9 L376.6,1245.9 L384.3,1245.9 L392.1,1245.9 L399.8,1245.9 L407.5,1245.9 L415.3,1245.9 L423.0,1245.9 L430.8,1245.9 L438.5,1245.9 L446.3,1245.9 L454.0,1245.9 L461.8,1245.9 L469.5,1245.9" stroke="#000" stroke-width="1.8" fill="none" stroke-linejoin="round" stroke-linecap="round" />
<g stroke="#000" stroke-width="2.1" fill="#fff"><circle cx="66.8" cy="1245.1" r="7.1"/><circle cx="69.1" cy="1240.2" r="7.1"/><circle cx="73.8" cy="1229.1" r="7.1"/><circle cx="81.7" cy="1207.5" r="7.1"/><circle cx="89.6" cy="1191.8" r="7.1"/><circle cx="97.5" cy="1183.9" r="7.1"/><circle cx="105.8" cy="1191.8" r="7.1"/><circle cx="113.4" cy="1222.2" r="7.1"/></g>
<g stroke="#000" stroke-width="2.0" fill="#fff"><circle cx="120.2" cy="1244.1" r="6.8"/><circle cx="128.8" cy="1245.9" r="6.8"/><circle cx="136.5" cy="1245.9" r="6.8"/><circle cx="144.3" cy="1245.9" r="6.8"/><circle cx="152.0" cy="1245.9" r="6.8"/><circle cx="159.7" cy="1245.9" r="6.8"/><circle cx="167.5" cy="1245.9" r="6.8"/><circle cx="175.2" cy="1245.9" r="6.8"/><circle cx="183.0" cy="1245.9" r="6.8"/><circle cx="190.7" cy="1245.9" r="6.8"/><circle cx="198.5" cy="1245.9" r="6.8"/><circle cx="206.2" cy="1245.9" r="6.8"/><circle cx="213.9" cy="1245.9" r="6.8"/><circle cx="221.7" cy="1245.9" r="6.8"/><circle cx="229.4" cy="1245.9" r="6.8"/><circle cx="237.2" cy="1245.9" r="6.8"/><circle cx="244.9" cy="1245.9" r="6.8"/><circle cx="252.7" cy="1245.9" r="6.8"/><circle cx="260.4" cy="1245.9" r="6.8"/><circle cx="268.2" cy="1245.9" r="6.8"/><circle cx="275.9" cy="1245.9" r="6.8"/><circle cx="283.6" cy="1245.9" r="6.8"/><circle cx="291.4" cy="1245.9" r="6.8"/><circle cx="299.1" cy="1245.9" r="6.8"/><circle cx="306.9" cy="1245.9" r="6.8"/><circle cx="314.6" cy="1245.9" r="6.8"/><circle cx="322.4" cy="1245.9" r="6.8"/><circle cx="330.1" cy="1245.9" r="6.8"/><circle cx="337.9" cy="1245.9" r="6.8"/><circle cx="345.6" cy="1245.9" r="6.8"/><circle cx="353.3" cy="1245.9" r="6.8"/><circle cx="361.1" cy="1245.9" r="6.8"/><circle cx="368.8" cy="1245.9" r="6.8"/><circle cx="376.6" cy="1245.9" r="6.8"/><circle cx="384.3" cy="1245.9" r="6.8"/><circle cx="392.1" cy="1245.9" r="6.8"/><circle cx="399.8" cy="1245.9" r="6.8"/><circle cx="407.5" cy="1245.9" r="6.8"/><circle cx="415.3" cy="1245.9" r="6.8"/><circle cx="423.0" cy="1245.9" r="6.8"/><circle cx="430.8" cy="1245.9" r="6.8"/><circle cx="438.5" cy="1245.9" r="6.8"/><circle cx="446.3" cy="1245.9" r="6.8"/><circle cx="454.0" cy="1245.9" r="6.8"/><circle cx="461.8" cy="1245.9" r="6.8"/><circle cx="469.5" cy="1245.9" r="6.8"/></g>
</g>
<rect x="68.2" y="922.2" width="401.3" height="326.8" fill="none" stroke="#000" stroke-width="3.0"/>
<path d="M82.3,1249.0 v-8 M82.3,922.2 v8 M159.7,1249.0 v-8 M159.7,922.2 v8 M237.2,1249.0 v-8 M237.2,922.2 v8 M314.6,1249.0 v-8 M314.6,922.2 v8 M392.1,1249.0 v-8 M392.1,922.2 v8 M469.5,1249.0 v-8 M469.5,922.2 v8 M108.1,1249.0 v-5.5 M108.1,922.2 v5.5 M134.0,1249.0 v-5.5 M134.0,922.2 v5.5 M185.5,1249.0 v-5.5 M185.5,922.2 v5.5 M211.4,1249.0 v-5.5 M211.4,922.2 v5.5 M263.0,1249.0 v-5.5 M263.0,922.2 v5.5 M288.8,1249.0 v-5.5 M288.8,922.2 v5.5 M340.4,1249.0 v-5.5 M340.4,922.2 v5.5 M366.3,1249.0 v-5.5 M366.3,922.2 v5.5 M417.8,1249.0 v-5.5 M417.8,922.2 v5.5 M443.7,1249.0 v-5.5 M443.7,922.2 v5.5 M68.2,1248.4 h8 M469.5,1248.4 h-8 M68.2,1215.7 h8 M469.5,1215.7 h-8 M68.2,1182.9 h8 M469.5,1182.9 h-8 M68.2,1150.2 h8 M469.5,1150.2 h-8 M68.2,1117.4 h8 M469.5,1117.4 h-8 M68.2,1084.7 h8 M469.5,1084.7 h-8 M68.2,1052.0 h8 M469.5,1052.0 h-8 M68.2,1019.2 h8 M469.5,1019.2 h-8 M68.2,986.5 h8 M469.5,986.5 h-8 M68.2,953.7 h8 M469.5,953.7 h-8 M68.2,921.0 h8 M469.5,921.0 h-8 " stroke="#000" stroke-width="2.6" fill="none"/>
<text x="59.7" y="1253.9" font-size="16" fill="#000" text-anchor="end" font-family="'Liberation Serif', serif" font-weight="bold" >0</text>
<text x="59.7" y="1221.2" font-size="16" fill="#000" text-anchor="end" font-family="'Liberation Serif', serif" font-weight="bold" >10</text>
<text x="59.7" y="1188.4" font-size="16" fill="#000" text-anchor="end" font-family="'Liberation Serif', serif" font-weight="bold" >20</text>
<text x="59.7" y="1155.7" font-size="16" fill="#000" text-anchor="end" font-family="'Liberation Serif', serif" font-weight="bold" >30</text>
<text x="59.7" y="1122.9" font-size="16" fill="#000" text-anchor="end" font-family="'Liberation Serif', serif" font-weight="bold" >40</text>
<text x="59.7" y="1090.2" font-size="16" fill="#000" text-anchor="end" font-family="'Liberation Serif', serif" font-weight="bold" >50</text>
<text x="59.7" y="1057.5" font-size="16" fill="#000" text-anchor="end" font-family="'Liberation Serif', serif" font-weight="bold" >60</text>
<text x="59.7" y="1024.7" font-size="16" fill="#000" text-anchor="end" font-family="'Liberation Serif', serif" font-weight="bold" >70</text>
<text x="59.7" y="992.0" font-size="16" fill="#000" text-anchor="end" font-family="'Liberation Serif', serif" font-weight="bold" >80</text>
<text x="59.7" y="959.2" font-size="16" fill="#000" text-anchor="end" font-family="'Liberation Serif', serif" font-weight="bold" >90</text>
<text x="59.7" y="926.5" font-size="16" fill="#000" text-anchor="end" font-family="'Liberation Serif', serif" font-weight="bold" >100</text>
<text x="82.3" y="1269.3" font-size="16" fill="#000" text-anchor="middle" font-family="'Liberation Serif', serif" font-weight="bold" >400</text>
<text x="159.7" y="1269.3" font-size="16" fill="#000" text-anchor="middle" font-family="'Liberation Serif', serif" font-weight="bold" >500</text>
<text x="237.2" y="1269.3" font-size="16" fill="#000" text-anchor="middle" font-family="'Liberation Serif', serif" font-weight="bold" >600</text>
<text x="314.6" y="1269.3" font-size="16" fill="#000" text-anchor="middle" font-family="'Liberation Serif', serif" font-weight="bold" >700</text>
<text x="392.1" y="1269.3" font-size="16" fill="#000" text-anchor="middle" font-family="'Liberation Serif', serif" font-weight="bold" >800</text>
<text x="469.5" y="1269.3" font-size="16" fill="#000" text-anchor="middle" font-family="'Liberation Serif', serif" font-weight="bold" >900</text>
<text x="172.5" y="1294.8" font-size="25" fill="#000" text-anchor="start" font-family="'Liberation Serif', serif" font-weight="bold" textLength="187.5" lengthAdjust="spacingAndGlyphs" >Wavelength (nm)</text>
<text x="31.6" y="1109.1" font-size="27" fill="#000" text-anchor="start" font-family="'Liberation Serif', serif" font-weight="bold" textLength="108.7" lengthAdjust="spacingAndGlyphs" transform="rotate(-90 31.6 1109.1)" >IPCE (%)</text>
<text x="428.5" y="969.3" font-size="36.5" fill="#000" text-anchor="start" font-family="'Liberation Sans', sans-serif" font-weight="normal" >g</text>
<line x1="233.2" y1="944.6" x2="266.7" y2="944.6" stroke="#000" stroke-width="1.8" />
<circle cx="249.9" cy="944.6" r="5.2" stroke="#000" stroke-width="1.8" fill="#fff"/>
<text x="272.0" y="949.0" font-size="15.5" fill="#000" text-anchor="start" font-family="'Liberation Serif', serif" font-weight="bold" textLength="43.0" lengthAdjust="spacingAndGlyphs" >TNRs</text>
<line x1="233.2" y1="966.7" x2="266.7" y2="966.7" stroke="#108010" stroke-width="1.8" />
<circle cx="249.9" cy="966.7" r="5.2" stroke="#108010" stroke-width="1.8" fill="#fff"/>
<text x="272.0" y="971.6" font-size="15.5" fill="#000" text-anchor="start" font-family="'Liberation Serif', serif" font-weight="bold" textLength="122.3" lengthAdjust="spacingAndGlyphs" >LE CZTS/TNRs</text>
<line x1="233.2" y1="988.7" x2="266.7" y2="988.7" stroke="#e616de" stroke-width="1.8" />
<circle cx="249.9" cy="988.7" r="5.2" stroke="#e616de" stroke-width="1.8" fill="#fff"/>
<text x="272.0" y="993.0" font-size="15.5" fill="#000" text-anchor="start" font-family="'Liberation Serif', serif" font-weight="bold" textLength="188.3" lengthAdjust="spacingAndGlyphs" >LE CZTS/Zn(O,S)/TNRs</text>
<clipPath id="ch"><rect x="561.5" y="925.5" width="399.5" height="325.3"/></clipPath>
<g clip-path="url(#ch)">
<path d="M611.0,1244.0 L618.0,1233.0 L629.4,1215.8 L649.6,1197.7 L677.3,1174.8 L715.6,1152.5 L766.9,1143.7 L814.0,1157.2 L843.1,1172.4 L866.8,1168.4 L895.5,1144.7 L947.0,1108.8" stroke="#000" stroke-width="1.8" fill="none" stroke-linejoin="round" stroke-linecap="round" />
<g stroke="#000" stroke-width="2.0" fill="none"><circle cx="649.6" cy="1197.7" r="6.5"/><circle cx="677.3" cy="1174.8" r="6.5"/><circle cx="715.6" cy="1152.5" r="6.5"/><circle cx="766.9" cy="1143.7" r="6.5"/><circle cx="814.0" cy="1157.2" r="6.5"/><circle cx="843.1" cy="1172.4" r="6.5"/><circle cx="866.8" cy="1168.4" r="6.5"/><circle cx="895.5" cy="1144.7" r="6.5"/><circle cx="947.0" cy="1108.8" r="6.5"/></g>
<path d="M607.5,1248.5 L609.5,1246.0 L612.4,1241.9 L617.7,1235.0 L626.2,1224.9 L636.8,1213.7 L654.9,1203.0 L679.4,1199.3 L700.7,1196.1 L718.8,1186.0 L737.1,1160.6 L763.5,1101.3 L794.7,1028.6" stroke="#108010" stroke-width="1.8" fill="none" stroke-linejoin="round" stroke-linecap="round" />
<g stroke="#108010" stroke-width="2.0" fill="none"><circle cx="607.5" cy="1248.5" r="6.5"/><circle cx="609.5" cy="1246.0" r="6.5"/><circle cx="612.4" cy="1241.9" r="6.5"/><circle cx="617.7" cy="1235.0" r="6.5"/><circle cx="626.2" cy="1224.9" r="6.5"/><circle cx="636.8" cy="1213.7" r="6.5"/><circle cx="654.9" cy="1203.0" r="6.5"/><circle cx="679.4" cy="1199.3" r="6.5"/><circle cx="700.7" cy="1196.1" r="6.5"/><circle cx="718.8" cy="1186.0" r="6.5"/><circle cx="737.1" cy="1160.6" r="6.5"/><circle cx="763.5" cy="1101.3" r="6.5"/><circle cx="794.7" cy="1028.6" r="6.5"/></g>
<path d="M611.5,1248.5 L613.4,1248.0 L616.6,1247.8 L619.8,1247.2 L624.1,1245.6 L628.3,1243.5 L632.6,1240.3 L636.8,1236.0 L642.7,1229.1 L650.2,1216.3 L662.4,1194.5 L686.9,1153.5" stroke="#d020d0" stroke-width="1.8" fill="none" stroke-linejoin="round" stroke-linecap="round" />
<g stroke="#d020d0" stroke-width="2.0" fill="none"><circle cx="611.5" cy="1248.5" r="6.5"/><circle cx="613.4" cy="1248.0" r="6.5"/><circle cx="616.6" cy="1247.8" r="6.5"/><circle cx="619.8" cy="1247.2" r="6.5"/><circle cx="624.1" cy="1245.6" r="6.5"/><circle cx="628.3" cy="1243.5" r="6.5"/><circle cx="632.6" cy="1240.3" r="6.5"/><circle cx="636.8" cy="1236.0" r="6.5"/><circle cx="642.7" cy="1229.1" r="6.5"/><circle cx="650.2" cy="1216.3" r="6.5"/><circle cx="662.4" cy="1194.5" r="6.5"/><circle cx="686.9" cy="1153.5" r="6.5"/></g>
</g>
<path d="M701,1208.3 H733.9 M733.9,1208.3 L736.6,1203.3 L742.1,1213.3 L747.6,1203.3 L753.1,1213.3 L758.6,1203.3 L764.1,1213.3 L766.8,1208.3 M766.8,1208.3 H808.8 M808.8,1208.3 L811.5,1203.3 L817.0,1213.3 L822.5,1203.3 L828.0,1213.3 L833.5,1203.3 L839.0,1213.3 L841.7,1208.3 M841.7,1208.3 H883.8 M883.8,1208.3 L886.5,1203.3 L892.0,1213.3 L897.5,1203.3 L903.0,1213.3 L908.5,1203.3 L914.0,1213.3 L916.7,1208.3 M916.7,1208.3 H950.5 M795.7,1208.3 V1234.8 H818 M830.8,1234.8 H854.5 V1208.3 M870.6,1208.3 V1234.8 H893 M905.7,1234.8 H929.5 V1208.3 M814,1230 L819,1234.8 L814,1239.6 M823,1230 L828,1234.8 L823,1239.6 M889,1230 L894,1234.8 L889,1239.6 M898,1230 L903,1234.8 L898,1239.6" stroke="#000" stroke-width="1.7" fill="none" stroke-linejoin="miter"/>
<circle cx="795.7" cy="1208.3" r="3.4" fill="#000"/><circle cx="870.6" cy="1208.3" r="3.4" fill="#000"/>
<text x="751.2" y="1199.8" font-size="9.5" fill="#000" text-anchor="middle" font-family="'Liberation Sans', sans-serif" font-weight="normal" >Rs</text>
<text x="826.2" y="1199.8" font-size="9.5" fill="#000" text-anchor="middle" font-family="'Liberation Sans', sans-serif" font-weight="normal" >R1</text>
<text x="901.2" y="1199.8" font-size="9.5" fill="#000" text-anchor="middle" font-family="'Liberation Sans', sans-serif" font-weight="normal" >R2</text>
<text x="826.2" y="1228.2" font-size="9.5" fill="#000" text-anchor="middle" font-family="'Liberation Sans', sans-serif" font-weight="normal" >CPE1</text>
<text x="901.2" y="1228.2" font-size="9.5" fill="#000" text-anchor="middle" font-family="'Liberation Sans', sans-serif" font-weight="normal" >CPE2</text>
<rect x="560.4" y="925.4" width="401.8" height="326.8" fill="none" stroke="#000" stroke-width="2.6"/>
<path d="M560.4,1252.2 v-6 M560.4,925.4 v6 M631.0,1252.2 v-6 M631.0,925.4 v6 M701.6,1252.2 v-6 M701.6,925.4 v6 M772.2,1252.2 v-6 M772.2,925.4 v6 M842.8,1252.2 v-6 M842.8,925.4 v6 M913.4,1252.2 v-6 M913.4,925.4 v6 M583.9,1252.2 v-3.5 M583.9,925.4 v3.5 M607.5,1252.2 v-3.5 M607.5,925.4 v3.5 M654.5,1252.2 v-3.5 M654.5,925.4 v3.5 M678.1,1252.2 v-3.5 M678.1,925.4 v3.5 M725.1,1252.2 v-3.5 M725.1,925.4 v3.5 M748.7,1252.2 v-3.5 M748.7,925.4 v3.5 M795.7,1252.2 v-3.5 M795.7,925.4 v3.5 M819.3,1252.2 v-3.5 M819.3,925.4 v3.5 M866.3,1252.2 v-3.5 M866.3,925.4 v3.5 M889.9,1252.2 v-3.5 M889.9,925.4 v3.5 M936.9,1252.2 v-3.5 M936.9,925.4 v3.5 M960.5,1252.2 v-3.5 M960.5,925.4 v3.5 M560.4,1252.2 h6 M962.2,1252.2 h-6 M560.4,1205.5 h6 M962.2,1205.5 h-6 M560.4,1158.8 h6 M962.2,1158.8 h-6 M560.4,1112.2 h6 M962.2,1112.2 h-6 M560.4,1065.5 h6 M962.2,1065.5 h-6 M560.4,1018.8 h6 M962.2,1018.8 h-6 M560.4,972.1 h6 M962.2,972.1 h-6 M560.4,925.4 h6 M962.2,925.4 h-6 " stroke="#000" stroke-width="2.2" fill="none"/>
<text x="552.6" y="1257.7" font-size="16" fill="#000" text-anchor="end" font-family="'Liberation Serif', serif" font-weight="bold" >0</text>
<text x="552.6" y="1211.0" font-size="16" fill="#000" text-anchor="end" font-family="'Liberation Serif', serif" font-weight="bold" >100</text>
<text x="552.6" y="1164.3" font-size="16" fill="#000" text-anchor="end" font-family="'Liberation Serif', serif" font-weight="bold" >200</text>
<text x="552.6" y="1117.7" font-size="16" fill="#000" text-anchor="end" font-family="'Liberation Serif', serif" font-weight="bold" >300</text>
<text x="552.6" y="1071.0" font-size="16" fill="#000" text-anchor="end" font-family="'Liberation Serif', serif" font-weight="bold" >400</text>
<text x="552.6" y="1024.3" font-size="16" fill="#000" text-anchor="end" font-family="'Liberation Serif', serif" font-weight="bold" >500</text>
<text x="552.6" y="977.6" font-size="16" fill="#000" text-anchor="end" font-family="'Liberation Serif', serif" font-weight="bold" >600</text>
<text x="552.6" y="930.9" font-size="16" fill="#000" text-anchor="end" font-family="'Liberation Serif', serif" font-weight="bold" >700</text>
<text x="560.4" y="1272.3" font-size="16" fill="#000" text-anchor="middle" font-family="'Liberation Serif', serif" font-weight="bold" >0</text>
<text x="631.0" y="1272.3" font-size="16" fill="#000" text-anchor="middle" font-family="'Liberation Serif', serif" font-weight="bold" >200</text>
<text x="701.6" y="1272.3" font-size="16" fill="#000" text-anchor="middle" font-family="'Liberation Serif', serif" font-weight="bold" >400</text>
<text x="772.2" y="1272.3" font-size="16" fill="#000" text-anchor="middle" font-family="'Liberation Serif', serif" font-weight="bold" >600</text>
<text x="842.8" y="1272.3" font-size="16" fill="#000" text-anchor="middle" font-family="'Liberation Serif', serif" font-weight="bold" >800</text>
<text x="913.4" y="1272.3" font-size="16" fill="#000" text-anchor="middle" font-family="'Liberation Serif', serif" font-weight="bold" >1000</text>
<text x="727.0" y="1303.2" font-size="28" fill="#000" text-anchor="start" font-family="'Liberation Serif', serif" font-weight="bold" textLength="30.4" lengthAdjust="spacingAndGlyphs" >Z'</text>
<text x="763.5" y="1303.2" font-size="21" fill="#000" text-anchor="start" font-family="'Liberation Serif', serif" font-weight="bold" textLength="29.5" lengthAdjust="spacingAndGlyphs" >(Ω)</text>
<text x="515" y="1104" font-size="25" font-family="'Liberation Serif', serif" font-weight="bold" transform="rotate(-90 515 1104)" textLength="82.5" lengthAdjust="spacingAndGlyphs">-Z'' (Ω)</text>
<text x="926.5" y="961.0" font-size="36.5" fill="#000" text-anchor="start" font-family="'Liberation Sans', sans-serif" font-weight="normal" >h</text>
<line x1="570.4" y1="944.6" x2="603.7" y2="944.6" stroke="#000" stroke-width="1.6" />
<text x="608.3" y="948.7" font-size="15" fill="#000" text-anchor="start" font-family="'Liberation Serif', serif" font-weight="bold" textLength="177.3" lengthAdjust="spacingAndGlyphs" >Stimulated data for TNRs</text>
<line x1="570.4" y1="966.9" x2="603.7" y2="966.9" stroke="#108010" stroke-width="1.6" />
<text x="608.3" y="971.7" font-size="15" fill="#000" text-anchor="start" font-family="'Liberation Serif', serif" font-weight="bold" textLength="248.7" lengthAdjust="spacingAndGlyphs" >Stimulated data for LE CZTS/TNRs</text>
<line x1="570.4" y1="989.0" x2="603.7" y2="989.0" stroke="#8e1190" stroke-width="1.6" />
<text x="608.3" y="994.0" font-size="15" fill="#000" text-anchor="start" font-family="'Liberation Serif', serif" font-weight="bold" textLength="308.9" lengthAdjust="spacingAndGlyphs" >Stimulated data for LE CZTS/Zn(O,S)/TNRs</text>
<circle cx="580.7" cy="1010.6" r="5" stroke="#000" stroke-width="1.6" fill="none"/>
<text x="601.4" y="1015.2" font-size="15" fill="#000" text-anchor="start" font-family="'Liberation Serif', serif" font-weight="bold" textLength="39.6" lengthAdjust="spacingAndGlyphs" >TNRs</text>
<circle cx="580.7" cy="1032.0" r="5" stroke="#108010" stroke-width="1.6" fill="none"/>
<text x="601.4" y="1037.3" font-size="15" fill="#000" text-anchor="start" font-family="'Liberation Serif', serif" font-weight="bold" textLength="111.6" lengthAdjust="spacingAndGlyphs" >LE CZTS/TNRs</text>
<circle cx="580.7" cy="1054.4" r="5" stroke="#e616de" stroke-width="1.6" fill="none"/>
<text x="601.4" y="1059.0" font-size="15" fill="#000" text-anchor="start" font-family="'Liberation Serif', serif" font-weight="bold" textLength="171.6" lengthAdjust="spacingAndGlyphs" >LE CZTS/Zn(O,S)/TNRs</text>
<rect x="1068" y="987.4" width="398.5" height="108" fill="#c0def6"/>
<line x1="1068.0" y1="987.6" x2="1466.5" y2="987.6" stroke="#a6cbee" stroke-width="1.2" />
<line x1="1068.0" y1="1095.2" x2="1466.5" y2="1095.2" stroke="#a0c4ec" stroke-width="1.6" />
<clipPath id="ci"><rect x="1068.5" y="932.5" width="398" height="324.7"/></clipPath>
<g clip-path="url(#ci)">
<path d="M1085.2,1243.5 L1091.5,1243.5 L1091.5,1004.7 L1093.4,1003.1 L1097.8,1009.4 L1104.0,1015.6 L1110.3,1021.1 L1116.6,1025.7 L1122.9,1029.6 L1129.1,1032.8 L1135.4,1036.7 L1141.7,1039.8 L1148.0,1042.1 L1154.2,1043.7 L1166.8,1046.8 L1179.3,1050.7 L1191.9,1053.8 L1204.4,1056.2 L1217.0,1058.5 L1229.5,1060.9 L1242.1,1063.2 L1254.6,1065.5 L1267.1,1067.1 L1279.7,1069.4 L1292.2,1071.8 L1304.8,1072.6 L1317.3,1073.4 L1329.9,1074.1 L1342.4,1075.7 L1355.0,1077.3 L1367.5,1078.0 L1380.1,1080.4 L1392.6,1082.7 L1405.2,1082.7 L1417.7,1083.5 L1430.2,1084.3 L1442.8,1085.1 L1455.3,1085.1 L1467.9,1086.6 L1474.2,1087.4" stroke="#e616de" stroke-width="4.2" fill="none" stroke-linejoin="round" stroke-linecap="round" />
</g>
<rect x="1067.2" y="931.3" width="400.4" height="327.1" fill="none" stroke="#000" stroke-width="2.6"/>
<path d="M1091.5,1258.4 v-6 M1091.5,931.3 v6 M1154.2,1258.4 v-6 M1154.2,931.3 v6 M1217.0,1258.4 v-6 M1217.0,931.3 v6 M1279.7,1258.4 v-6 M1279.7,931.3 v6 M1342.4,1258.4 v-6 M1342.4,931.3 v6 M1405.2,1258.4 v-6 M1405.2,931.3 v6 M1467.9,1258.4 v-6 M1467.9,931.3 v6 M1070.6,1258.4 v-3.5 M1070.6,931.3 v3.5 M1112.4,1258.4 v-3.5 M1112.4,931.3 v3.5 M1133.3,1258.4 v-3.5 M1133.3,931.3 v3.5 M1175.1,1258.4 v-3.5 M1175.1,931.3 v3.5 M1196.0,1258.4 v-3.5 M1196.0,931.3 v3.5 M1237.9,1258.4 v-3.5 M1237.9,931.3 v3.5 M1258.8,1258.4 v-3.5 M1258.8,931.3 v3.5 M1300.6,1258.4 v-3.5 M1300.6,931.3 v3.5 M1321.5,1258.4 v-3.5 M1321.5,931.3 v3.5 M1363.3,1258.4 v-3.5 M1363.3,931.3 v3.5 M1384.2,1258.4 v-3.5 M1384.2,931.3 v3.5 M1426.1,1258.4 v-3.5 M1426.1,931.3 v3.5 M1447.0,1258.4 v-3.5 M1447.0,931.3 v3.5 M1067.2,1243.5 h6 M1467.6,1243.5 h-6 M1067.2,1181.1 h6 M1467.6,1181.1 h-6 M1067.2,1118.6 h6 M1467.6,1118.6 h-6 M1067.2,1056.2 h6 M1467.6,1056.2 h-6 M1067.2,993.7 h6 M1467.6,993.7 h-6 M1067.2,931.3 h6 M1467.6,931.3 h-6 M1067.2,1212.3 h3.5 M1467.6,1212.3 h-3.5 M1067.2,1149.8 h3.5 M1467.6,1149.8 h-3.5 M1067.2,1087.4 h3.5 M1467.6,1087.4 h-3.5 M1067.2,1025.0 h3.5 M1467.6,1025.0 h-3.5 M1067.2,962.5 h3.5 M1467.6,962.5 h-3.5 " stroke="#000" stroke-width="2.2" fill="none"/>
<text x="1057.6" y="1249.0" font-size="16" fill="#000" text-anchor="end" font-family="'Liberation Serif', serif" font-weight="bold" >0</text>
<text x="1057.6" y="1186.6" font-size="16" fill="#000" text-anchor="end" font-family="'Liberation Serif', serif" font-weight="bold" >4</text>
<text x="1057.6" y="1124.1" font-size="16" fill="#000" text-anchor="end" font-family="'Liberation Serif', serif" font-weight="bold" >8</text>
<text x="1057.6" y="1061.7" font-size="16" fill="#000" text-anchor="end" font-family="'Liberation Serif', serif" font-weight="bold" >12</text>
<text x="1057.6" y="999.2" font-size="16" fill="#000" text-anchor="end" font-family="'Liberation Serif', serif" font-weight="bold" >16</text>
<text x="1057.6" y="936.8" font-size="16" fill="#000" text-anchor="end" font-family="'Liberation Serif', serif" font-weight="bold" >20</text>
<text x="1091.5" y="1277.6" font-size="16" fill="#000" text-anchor="middle" font-family="'Liberation Serif', serif" font-weight="bold" >0</text>
<text x="1154.2" y="1277.6" font-size="16" fill="#000" text-anchor="middle" font-family="'Liberation Serif', serif" font-weight="bold" >10</text>
<text x="1217.0" y="1277.6" font-size="16" fill="#000" text-anchor="middle" font-family="'Liberation Serif', serif" font-weight="bold" >20</text>
<text x="1279.7" y="1277.6" font-size="16" fill="#000" text-anchor="middle" font-family="'Liberation Serif', serif" font-weight="bold" >30</text>
<text x="1342.4" y="1277.6" font-size="16" fill="#000" text-anchor="middle" font-family="'Liberation Serif', serif" font-weight="bold" >40</text>
<text x="1405.2" y="1277.6" font-size="16" fill="#000" text-anchor="middle" font-family="'Liberation Serif', serif" font-weight="bold" >50</text>
<text x="1467.9" y="1277.6" font-size="16" fill="#000" text-anchor="middle" font-family="'Liberation Serif', serif" font-weight="bold" >60</text>
<text x="1220.8" y="1304.5" font-size="26" fill="#000" text-anchor="start" font-family="'Liberation Serif', serif" font-weight="bold" textLength="118.7" lengthAdjust="spacingAndGlyphs" >Time (min)</text>
<text x="1029.5" y="1227.8" font-size="27.5" font-family="'Liberation Serif', serif" font-weight="bold" transform="rotate(-90 1029.5 1227.8)" textLength="291.5" lengthAdjust="spacingAndGlyphs">Current density (mA/cm<tspan dy="-9" font-size="17">2</tspan><tspan dy="9">)</tspan></text>
<text x="1176.5" y="968.8" font-size="36.5" fill="#000" text-anchor="start" font-family="'Liberation Sans', sans-serif" font-weight="normal" >i</text>
<text x="1076.2" y="958.2" font-size="17" fill="#000" text-anchor="start" font-family="'Liberation Serif', serif" font-weight="bold" textLength="66.0" lengthAdjust="spacingAndGlyphs" >light on</text>
<line x1="1092.2" y1="965.8" x2="1092.2" y2="990.0" stroke="#000" stroke-width="2.4" />
<path d="M1086.3,989.5 L1098.1,989.5 L1092.2,999.5 Z" fill="#000"/>
<line x1="1220.0" y1="952.8" x2="1253.5" y2="952.8" stroke="#e616de" stroke-width="4.2" />
<text x="1257.0" y="958.0" font-size="16" fill="#000" text-anchor="start" font-family="'Liberation Serif', serif" font-weight="bold" textLength="189.6" lengthAdjust="spacingAndGlyphs" >LE CZTS/Zn(O,S)/TNRs</text>
</svg>
</body></html>
